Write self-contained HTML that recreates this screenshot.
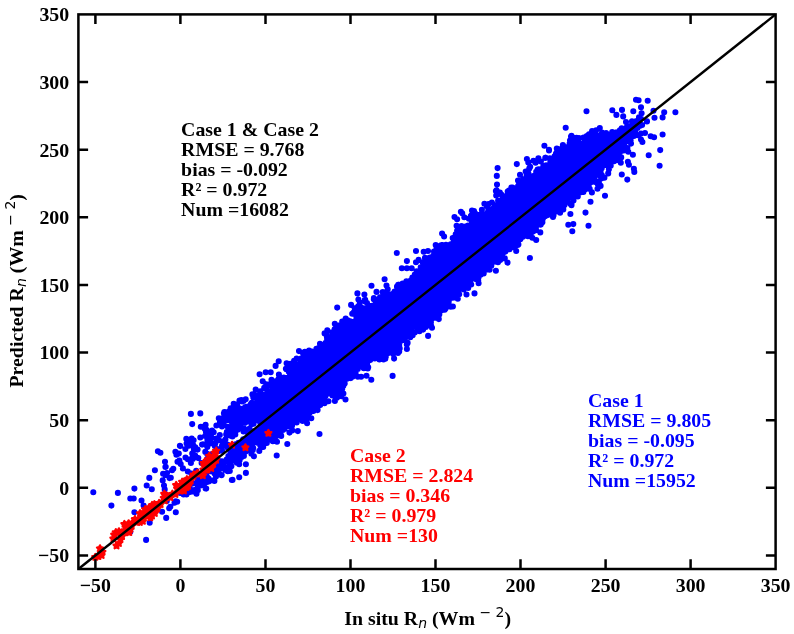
<!DOCTYPE html><html><head><meta charset="utf-8"><title>Scatter plot</title>
<style>html,body{margin:0;padding:0;background:#fff}svg{display:block}text{font-family:"Liberation Serif","Times New Roman",serif;font-weight:bold;font-size:19.85px;fill:#000}.m{font-family:"DejaVu Sans",sans-serif;font-weight:normal}.mi{font-family:"DejaVu Sans",sans-serif;font-weight:normal;font-style:oblique}</style></head><body>
<svg width="794" height="634" viewBox="0 0 794 634">
<rect width="794" height="634" fill="#fff"/>
<polygon points="268.9,402.6 544.3,183.5 544.3,213.2 268.9,432.4" fill="#0000ff"/>
<path d="M549.4 189.2h0M205.3 451.9h0M339.6 345.6h0M622.8 145.4h0M611.5 142.1h0M326.7 387.0h0M265.8 426.9h0M260.5 429.8h0M408.4 284.6h0M557.7 193.8h0M227.7 426.7h0M319.3 392.9h0M481.9 226.7h0M321.9 353.5h0M376.9 313.1h0M197.8 490.3h0M464.9 236.7h0M540.3 184.7h0M361.8 324.1h0M522.4 191.4h0M599.8 139.7h0M448.7 290.0h0M464.3 217.3h0M305.7 410.3h0M400.0 335.5h0M387.7 303.8h0M589.3 142.3h0M326.6 386.9h0M541.2 184.2h0M472.2 230.9h0M531.7 179.6h0M572.7 177.9h0M552.0 175.6h0M442.1 260.8h0M563.0 195.3h0M436.4 300.0h0M544.6 185.2h0M442.1 233.6h0M379.1 310.4h0M262.2 427.1h0M501.2 211.9h0M251.2 404.9h0M377.8 301.7h0M256.3 433.4h0M296.6 373.9h0M588.7 177.6h0M479.2 230.9h0M554.2 204.2h0M566.0 158.0h0M204.9 429.1h0M501.8 248.1h0M393.0 298.9h0M233.7 419.5h0M423.6 272.3h0M369.3 321.5h0M574.7 188.7h0M443.3 246.9h0M577.2 164.5h0M601.5 144.7h0M549.1 191.4h0M445.7 254.0h0M560.4 191.7h0M277.6 428.4h0M576.5 140.5h0M490.1 259.8h0M592.7 152.0h0M386.3 307.8h0M269.5 384.4h0M556.9 206.1h0M471.3 228.5h0M584.0 149.5h0M274.7 395.6h0M390.6 340.4h0M522.0 232.2h0M293.5 417.3h0M556.0 193.8h0M517.7 196.6h0M557.0 184.8h0M267.4 423.2h0M256.2 441.3h0M245.1 418.5h0M337.6 340.3h0M441.2 263.8h0M262.8 430.2h0M477.3 228.2h0M246.3 419.6h0M357.7 314.0h0M568.7 151.5h0M520.8 198.1h0M470.9 274.4h0M455.5 297.4h0M318.9 362.4h0M443.6 307.8h0M263.3 426.3h0M583.0 170.8h0M534.7 185.2h0M366.9 354.9h0M360.2 323.9h0M516.2 196.3h0M298.7 375.5h0M544.1 180.2h0M443.4 297.5h0M455.0 295.2h0M547.7 200.0h0M252.8 412.5h0M468.5 236.8h0M440.2 263.5h0M572.6 195.8h0M338.9 340.7h0M289.5 432.6h0M527.0 191.5h0M337.2 336.2h0M405.6 293.5h0M501.7 216.1h0M505.1 199.3h0M300.0 371.4h0M299.2 376.3h0M553.0 197.5h0M344.3 381.9h0M527.7 189.0h0M544.5 193.2h0M318.8 393.8h0M549.1 184.3h0M626.2 132.5h0M569.2 181.0h0M385.2 307.8h0M491.5 214.1h0M393.3 303.4h0M258.8 439.2h0M435.0 264.5h0M558.8 187.7h0M617.6 141.7h0M525.3 180.2h0M559.3 193.2h0M296.8 377.0h0M286.4 382.8h0M610.1 147.0h0M556.5 202.9h0M277.2 433.4h0M258.1 406.5h0M622.5 145.1h0M546.2 200.7h0M557.3 163.4h0M297.3 371.8h0M258.5 406.7h0M420.5 311.9h0M314.0 396.8h0M428.2 272.8h0M431.2 266.9h0M385.4 304.6h0M315.0 396.7h0M293.5 374.0h0M600.6 155.9h0M570.6 193.2h0M331.7 385.6h0M591.2 137.3h0M324.3 350.3h0M556.7 194.7h0M263.8 426.4h0M452.0 295.6h0M487.0 261.9h0M533.3 229.9h0M478.5 273.7h0M310.6 368.6h0M558.8 184.9h0M567.8 171.1h0M307.1 415.9h0M424.1 267.6h0M587.3 155.2h0M517.7 239.0h0M576.3 174.3h0M391.8 301.3h0M482.0 216.9h0M436.2 302.4h0M507.0 204.6h0M276.2 427.2h0M493.6 255.5h0M236.3 446.2h0M581.7 159.9h0M427.0 276.4h0M439.9 260.0h0M565.3 197.4h0M263.2 447.0h0M321.0 359.6h0M404.5 286.2h0M500.9 211.5h0M436.8 304.8h0M519.4 199.4h0M408.3 323.5h0M523.2 187.5h0M465.6 234.4h0M388.9 339.1h0M498.9 216.5h0M512.3 193.3h0M259.6 412.1h0M473.0 228.2h0M316.4 348.7h0M635.5 122.2h0M574.5 166.5h0M546.3 176.2h0M343.5 374.4h0M544.7 184.3h0M358.5 316.4h0M434.3 303.0h0M486.6 267.0h0M507.5 194.7h0M495.2 221.7h0M464.1 283.0h0M340.7 337.9h0M427.4 317.6h0M322.8 395.2h0M584.5 167.2h0M350.8 378.1h0M356.3 324.4h0M507.9 209.4h0M415.5 284.8h0M560.6 186.5h0M500.9 213.0h0M399.1 329.6h0M464.9 233.5h0M300.8 408.5h0M301.6 370.7h0M584.2 174.4h0M251.9 408.6h0M235.5 444.2h0M514.6 194.5h0M457.5 244.6h0M388.9 296.7h0M392.6 303.6h0M560.9 178.5h0M548.0 191.9h0M578.1 168.4h0M545.3 157.9h0M258.1 416.9h0M556.8 197.6h0M612.7 146.9h0M442.2 298.2h0M577.5 182.5h0M365.9 362.3h0M242.7 445.8h0M482.5 264.2h0M355.6 331.8h0M563.1 187.1h0M549.9 158.2h0M534.5 222.0h0M195.3 447.2h0M512.8 205.4h0M569.3 177.7h0M294.9 416.4h0M424.6 316.3h0M260.2 428.7h0M435.7 259.5h0M283.7 424.2h0M345.9 328.2h0M454.6 254.0h0M404.7 291.7h0M352.0 335.4h0M252.5 442.0h0M585.2 174.0h0M328.1 389.5h0M312.9 363.3h0M560.3 181.6h0M345.5 336.6h0M442.9 245.9h0M421.6 328.7h0M544.8 210.3h0M411.0 287.0h0M207.3 446.9h0M426.5 312.6h0M342.9 379.3h0M590.0 167.2h0M264.5 431.6h0M578.3 182.4h0M435.8 308.5h0M387.8 353.3h0M561.0 210.3h0M554.6 193.2h0M266.0 430.1h0M364.9 299.8h0M559.8 174.1h0M312.4 400.2h0M415.2 325.4h0M603.3 160.5h0M519.7 200.8h0M357.9 312.6h0M511.0 201.8h0M230.0 463.3h0M309.5 361.1h0M301.9 371.0h0M270.3 385.0h0M327.1 338.9h0M408.0 289.5h0M447.7 255.6h0M348.1 371.1h0M259.2 417.7h0M502.4 206.6h0M545.6 191.6h0M558.1 200.0h0M339.0 383.9h0M567.2 201.1h0M593.7 145.9h0M552.7 189.1h0M568.5 176.8h0M258.5 430.0h0M558.2 197.3h0M455.7 239.6h0M276.9 389.5h0M440.2 309.5h0M627.7 134.3h0M511.6 198.2h0M547.3 199.3h0M616.0 151.5h0M571.4 178.5h0M573.2 179.0h0M569.8 167.5h0M388.8 346.8h0M302.2 373.2h0M440.4 260.3h0M475.4 279.0h0M517.8 244.9h0M332.7 337.5h0M361.9 323.8h0M317.4 356.2h0M259.3 411.4h0M370.0 308.1h0M448.7 290.1h0M486.7 263.4h0M591.0 151.1h0M322.5 393.5h0M339.2 328.9h0M321.8 390.7h0M615.2 155.4h0M349.9 369.6h0M613.9 134.5h0M575.9 168.4h0M264.9 430.0h0M200.7 484.2h0M260.2 443.6h0M435.7 245.1h0M256.7 436.9h0M562.5 159.6h0M221.0 465.7h0M583.5 137.5h0M549.5 205.2h0M360.2 363.3h0M254.0 436.7h0M251.5 443.5h0M307.3 367.3h0M551.5 193.6h0M365.8 311.9h0M365.0 323.5h0M284.5 425.5h0M515.7 237.1h0M476.8 235.4h0M289.3 385.1h0M341.4 396.2h0M577.4 190.3h0M425.5 275.6h0M235.6 428.7h0M546.9 203.3h0M260.3 391.2h0M598.7 163.8h0M358.0 325.0h0M216.9 440.1h0M321.6 396.1h0M420.2 322.2h0M549.1 168.6h0M359.8 302.5h0M347.9 331.6h0M569.2 177.9h0M420.7 319.1h0M266.9 426.2h0M613.6 137.3h0M271.4 439.8h0M423.1 317.7h0M398.4 329.8h0M576.7 163.7h0M575.1 180.9h0M459.7 281.0h0M233.1 415.5h0M484.0 226.2h0M596.1 130.3h0M338.9 336.9h0M242.1 409.9h0M420.6 314.5h0M553.1 198.5h0M583.0 159.0h0M417.1 283.3h0M408.1 323.9h0M536.5 181.1h0M518.1 200.4h0M562.0 196.8h0M380.0 297.5h0M288.4 420.4h0M584.7 178.0h0M601.9 160.4h0M546.4 215.1h0M314.6 360.5h0M591.4 164.8h0M426.3 310.7h0M560.2 198.8h0M231.3 461.2h0M446.5 294.0h0M394.1 339.0h0M396.4 351.8h0M552.2 192.9h0M490.6 256.6h0M357.4 330.3h0M548.3 212.1h0M287.3 421.4h0M614.0 143.4h0M255.1 439.5h0M582.1 179.6h0M235.6 447.5h0M284.4 387.3h0M410.3 337.2h0M292.0 383.5h0M520.6 234.8h0M439.6 252.9h0M301.5 358.2h0M433.1 303.0h0M461.6 236.8h0M423.0 316.9h0M494.7 259.1h0M340.3 344.9h0M615.8 137.5h0M491.0 212.6h0M558.8 188.4h0M359.6 363.0h0M483.0 227.2h0M567.1 176.1h0M574.6 165.2h0M256.0 418.1h0M620.6 133.2h0M453.6 287.7h0M317.0 407.3h0M355.8 365.4h0M452.7 238.1h0M567.7 186.1h0M363.7 325.6h0M442.1 263.8h0M208.1 432.4h0M377.8 314.0h0M583.5 171.7h0M469.1 241.2h0M510.0 202.5h0M548.4 192.1h0M295.4 373.4h0M353.3 331.0h0M435.5 315.6h0M273.5 390.3h0M605.1 163.2h0M406.3 324.2h0M446.1 253.4h0M546.0 183.2h0M564.9 177.1h0M230.0 458.4h0M469.9 229.8h0M451.4 290.8h0M576.8 153.0h0M389.5 340.5h0M545.4 203.0h0M585.7 156.2h0M348.6 322.9h0M298.1 373.4h0M532.5 192.6h0M422.3 314.2h0M284.7 428.1h0M512.6 244.8h0M587.0 141.9h0M355.3 366.8h0M545.1 184.5h0M389.4 306.7h0M556.9 199.0h0M517.4 236.1h0M309.1 368.9h0M612.2 137.9h0M422.9 275.1h0M556.4 178.3h0M360.8 363.1h0M562.6 174.3h0M488.4 222.6h0M550.5 160.4h0M548.0 199.3h0M567.6 153.7h0M174.5 502.8h0M584.9 155.7h0M557.7 191.3h0M589.2 156.8h0M530.6 185.9h0M381.7 309.5h0M623.4 138.1h0M438.9 251.8h0M574.5 179.8h0M637.9 124.0h0M555.4 168.7h0M297.8 374.6h0M557.0 175.1h0M219.6 466.0h0M546.7 200.9h0M451.4 244.8h0M475.4 234.5h0M265.1 402.3h0M269.3 398.1h0M496.3 252.6h0M470.7 272.9h0M457.4 246.6h0M267.2 400.3h0M549.5 199.6h0M269.2 394.0h0M569.2 155.0h0M312.5 367.5h0M434.6 256.7h0M568.2 165.4h0M280.3 423.9h0M486.9 264.2h0M593.6 146.8h0M239.6 460.3h0M406.4 325.1h0M456.7 288.4h0M612.3 132.2h0M408.6 327.2h0M305.0 369.0h0M352.1 324.3h0M551.3 200.7h0M468.3 237.5h0M582.7 168.1h0M587.2 160.5h0M540.0 218.8h0M362.8 324.1h0M422.2 279.6h0M361.3 317.8h0M283.5 381.7h0M444.2 296.7h0M329.9 389.2h0M375.2 317.9h0M459.4 228.3h0M559.9 193.3h0M545.9 184.5h0M439.9 258.8h0M240.7 424.0h0M382.2 347.1h0M470.5 235.9h0M548.0 209.0h0M290.8 415.4h0M298.0 370.4h0M547.3 176.3h0M374.4 308.0h0M417.7 280.4h0M346.3 330.2h0M608.1 153.0h0M374.8 357.5h0M445.4 297.0h0M350.5 333.6h0M524.1 192.2h0M523.4 192.8h0M616.7 137.3h0M455.7 287.1h0M540.4 224.8h0M605.7 139.2h0M466.5 275.9h0M328.7 353.7h0M377.2 347.7h0M562.3 178.8h0M247.8 447.3h0M471.4 274.8h0M475.8 214.1h0M407.3 291.8h0M333.0 383.3h0M572.9 184.6h0M493.7 258.8h0M483.7 273.4h0M353.6 325.7h0M425.0 317.1h0M366.6 356.3h0M393.9 340.0h0M533.9 182.4h0M478.5 266.6h0M605.5 158.0h0M422.0 271.9h0M384.5 310.6h0M576.1 164.8h0M516.3 190.3h0M320.0 397.9h0M610.8 134.7h0M569.6 183.1h0M587.6 143.7h0M320.8 357.9h0M291.2 418.0h0M290.4 363.9h0M370.3 316.9h0M560.9 194.6h0M613.9 134.7h0M304.3 370.8h0M436.8 256.3h0M262.9 434.0h0M572.0 177.0h0M318.4 361.7h0M468.9 275.5h0M227.4 446.7h0M489.5 211.0h0M340.2 341.8h0M405.5 329.2h0M613.0 142.7h0M332.9 340.5h0M290.0 418.3h0M582.7 157.8h0M359.4 329.6h0M400.1 332.0h0M393.8 333.0h0M507.7 206.7h0M346.7 372.9h0M412.6 287.8h0M492.7 256.3h0M357.2 325.4h0M348.3 373.1h0M618.3 151.5h0M479.0 276.6h0M258.5 436.3h0M518.1 186.1h0M561.2 164.4h0M370.2 316.7h0M192.4 457.8h0M301.4 374.8h0M460.0 244.3h0M613.9 151.0h0M375.8 307.6h0M464.2 244.7h0M587.7 150.8h0M408.5 331.2h0M430.7 311.8h0M333.7 384.8h0M275.2 397.3h0M246.7 410.8h0M519.6 238.3h0M430.5 308.6h0M536.1 230.1h0M361.4 324.2h0M250.5 445.7h0M545.8 209.0h0M470.5 229.7h0M516.5 202.8h0M537.4 176.3h0M406.8 288.5h0M580.2 146.0h0M570.7 183.1h0M588.7 154.3h0M344.7 376.9h0M191.7 438.6h0M527.8 189.1h0M361.8 321.8h0M492.3 255.5h0M207.3 459.0h0M331.5 386.5h0M549.1 181.7h0M326.9 336.8h0M364.4 326.0h0M423.7 318.3h0M405.9 331.4h0M501.5 215.6h0M474.4 271.1h0M491.4 264.2h0M307.8 355.5h0M244.6 448.3h0M509.1 203.2h0M298.6 365.3h0M465.3 279.3h0M260.7 411.0h0M573.4 175.9h0M444.4 294.0h0M398.0 352.9h0M425.2 278.2h0M510.9 210.0h0M262.6 405.0h0M229.2 411.3h0M598.0 164.9h0M550.8 201.3h0M567.2 182.1h0M317.3 357.3h0M311.1 363.1h0M240.6 409.2h0M424.2 274.1h0M402.9 289.2h0M249.4 414.8h0M351.0 335.2h0M617.3 136.5h0M267.6 410.0h0M320.6 394.7h0M309.3 359.6h0M322.2 395.5h0M339.6 385.4h0M447.5 254.9h0M412.7 288.0h0M415.3 321.4h0M388.7 307.0h0M352.8 329.7h0M293.8 374.9h0M428.0 312.0h0M358.4 330.2h0M593.3 150.8h0M392.0 340.4h0M577.1 189.0h0M277.6 428.9h0M472.1 218.4h0M568.0 172.4h0M450.7 244.3h0M286.1 426.2h0M547.0 205.5h0M545.1 198.7h0M572.7 158.4h0M552.0 205.6h0M526.1 195.9h0M257.6 432.2h0M275.3 439.4h0M583.3 184.0h0M216.9 472.7h0M322.8 353.5h0M232.4 436.4h0M419.1 279.4h0M280.6 384.0h0M550.4 161.8h0M377.1 315.8h0M532.4 225.3h0M563.8 169.0h0M458.4 289.8h0M550.7 198.3h0M571.4 156.0h0M284.4 380.6h0M441.2 249.5h0M357.0 327.8h0M558.7 182.1h0M265.4 402.2h0M368.1 353.7h0M612.2 132.0h0M593.2 136.4h0M211.4 459.6h0M563.2 198.2h0M528.3 184.5h0M356.5 332.5h0M335.0 380.1h0M313.8 365.1h0M552.2 167.9h0M545.7 157.8h0M373.8 316.0h0M482.3 264.9h0M416.2 322.1h0M348.0 338.6h0M587.0 138.6h0M572.8 179.8h0M293.8 374.3h0M495.4 205.5h0M596.0 151.2h0M488.1 224.8h0M598.2 181.7h0M326.3 353.3h0M490.9 213.7h0M239.6 428.6h0M571.0 183.4h0M527.6 192.0h0M548.2 210.2h0M407.3 336.5h0M549.1 205.8h0M381.8 351.8h0M500.8 206.3h0M429.8 263.4h0M431.4 265.4h0M615.1 137.8h0M588.3 171.3h0M261.8 428.9h0M572.3 169.6h0M429.7 262.2h0M523.8 197.5h0M482.6 220.5h0M554.6 156.4h0M540.9 161.5h0M207.4 440.1h0M364.6 325.7h0M395.6 292.7h0M409.6 322.2h0M394.2 338.3h0M549.4 194.5h0M343.7 379.0h0M425.6 275.9h0M584.5 142.2h0M419.0 323.4h0M504.2 210.8h0M522.1 190.8h0M461.9 279.0h0M557.3 194.3h0M428.4 270.8h0M498.5 260.6h0M557.6 210.5h0M465.5 232.9h0M383.0 352.7h0M437.2 299.2h0M552.4 173.0h0M525.9 187.4h0M560.9 174.8h0M525.1 197.6h0M260.2 403.7h0M351.4 369.3h0M336.2 341.1h0M436.9 262.1h0M469.5 242.0h0M499.4 256.2h0M549.5 206.9h0M557.2 191.2h0M303.9 405.1h0M555.5 191.9h0M309.4 401.8h0M409.8 326.7h0M596.2 141.4h0M545.2 213.4h0M549.5 172.8h0M401.3 327.8h0M349.2 331.4h0M600.9 136.3h0M421.6 312.7h0M242.5 453.6h0M573.0 183.9h0M249.8 440.6h0M353.9 369.9h0M508.5 246.0h0M381.4 350.2h0M534.1 224.1h0M332.0 391.0h0M571.0 191.8h0M426.3 263.2h0M482.4 269.3h0M366.1 322.5h0M286.7 426.1h0M322.0 395.3h0M463.2 247.3h0M516.2 251.0h0M266.2 384.3h0M550.8 182.0h0M381.1 343.9h0M562.1 187.1h0M523.0 230.8h0M280.4 379.4h0M300.0 374.5h0M296.5 371.9h0M232.7 424.5h0M626.9 127.6h0M262.8 410.4h0M613.3 154.4h0M373.8 311.6h0M533.9 191.5h0M195.2 455.6h0M473.9 237.4h0M243.3 451.4h0M358.7 324.2h0M294.1 360.9h0M506.1 208.0h0M419.5 331.2h0M472.1 271.4h0M321.0 346.1h0M484.0 267.1h0M294.4 413.4h0M293.9 377.4h0M324.2 388.8h0M426.5 313.2h0M566.1 172.3h0M263.8 417.6h0M554.0 173.5h0M613.9 154.4h0M459.4 245.7h0M248.3 446.1h0M267.0 418.1h0M481.8 215.1h0M481.1 233.3h0M365.9 361.1h0M596.9 151.1h0M463.6 244.0h0M420.1 317.8h0M429.4 305.0h0M495.9 210.9h0M364.1 360.7h0M251.1 444.6h0M535.7 189.9h0M290.1 415.5h0M408.1 332.9h0M341.2 380.1h0M501.9 250.0h0M562.9 145.0h0M496.3 253.2h0M367.1 355.3h0M610.7 165.7h0M548.9 182.0h0M433.7 310.2h0M611.0 148.0h0M583.4 192.0h0M621.6 136.7h0M553.5 210.0h0M568.3 160.2h0M569.6 159.3h0M558.5 189.1h0M431.3 272.0h0M550.9 190.4h0M308.9 370.0h0M347.7 320.4h0M247.0 420.1h0M352.3 330.9h0M553.0 193.7h0M620.2 151.8h0M311.9 353.4h0M413.2 323.2h0M560.5 186.7h0M384.1 342.5h0M550.7 167.7h0M608.1 156.8h0M483.3 224.0h0M413.6 287.5h0M371.4 352.2h0M353.3 370.0h0M578.0 165.7h0M216.6 464.8h0M493.5 208.4h0M450.4 256.3h0M328.5 341.4h0M416.7 327.6h0M591.7 155.6h0M538.7 178.9h0M571.9 168.7h0M466.7 226.8h0M548.5 208.8h0M603.6 145.6h0M291.0 371.1h0M292.6 380.9h0M485.6 229.1h0M614.7 144.9h0M249.2 429.0h0M499.2 210.3h0M489.1 223.3h0M279.0 393.8h0M508.2 211.7h0M220.6 424.9h0M289.1 386.4h0M438.9 263.7h0M585.1 153.0h0M535.1 175.4h0M571.2 158.5h0M605.9 159.1h0M351.5 367.1h0M394.6 302.0h0M266.9 426.7h0M497.4 206.0h0M418.9 322.0h0M333.5 350.7h0M567.0 161.8h0M421.9 320.3h0M281.5 425.2h0M245.4 431.0h0M558.9 162.2h0M460.6 243.6h0M504.5 248.5h0M430.2 271.4h0M603.5 141.5h0M576.4 173.7h0M562.6 170.0h0M429.7 314.4h0M276.5 396.4h0M232.1 461.1h0M368.2 320.4h0M457.1 247.7h0M532.3 181.6h0M471.1 275.6h0M562.7 158.9h0M549.2 187.0h0M265.5 412.2h0M251.0 403.9h0M340.7 388.0h0M589.0 144.6h0M402.7 295.6h0M602.3 135.3h0M514.2 237.5h0M486.7 260.7h0M491.0 216.9h0M244.3 444.8h0M536.7 223.7h0M547.1 170.1h0M479.0 223.7h0M320.0 350.3h0M550.1 204.3h0M608.1 150.2h0M509.3 241.8h0M566.0 201.7h0M627.0 136.2h0M469.6 226.3h0M408.0 286.0h0M243.3 420.4h0M306.5 413.8h0M450.7 290.4h0M567.8 182.1h0M581.1 164.4h0M550.0 194.6h0M349.8 332.8h0M334.9 401.0h0M558.8 186.1h0M441.1 260.0h0M341.3 342.2h0M289.3 416.1h0M301.6 361.4h0M547.6 180.4h0M527.9 236.3h0M477.4 228.0h0M484.5 219.5h0M327.3 355.8h0M441.7 259.6h0M388.6 338.9h0M558.9 207.2h0M543.6 174.0h0M547.0 190.1h0M482.6 220.1h0M261.1 416.1h0M557.6 196.1h0M256.1 395.4h0M511.2 197.8h0M320.0 360.3h0M454.2 249.9h0M386.0 347.8h0M567.2 160.7h0M559.9 196.4h0M486.6 221.3h0M393.1 349.5h0M257.0 440.5h0M472.8 228.6h0M573.3 153.4h0M315.6 358.0h0M224.4 461.9h0M584.0 163.1h0M454.4 285.5h0M522.6 231.8h0M552.4 207.8h0M326.8 354.7h0M489.3 221.2h0M342.1 338.1h0M487.8 225.9h0M518.4 244.4h0M394.7 333.7h0M613.1 145.6h0M245.6 414.6h0M293.4 415.6h0M488.3 212.5h0M571.6 180.9h0M555.8 193.7h0M547.3 201.0h0M461.4 283.1h0M486.1 227.8h0M432.4 318.1h0M187.8 471.5h0M320.4 399.0h0M325.7 393.1h0M425.7 309.7h0M447.5 298.5h0M534.9 222.0h0M590.2 163.0h0M544.6 200.6h0M302.8 352.7h0M579.8 161.6h0M459.2 283.9h0M328.2 336.9h0M536.8 179.7h0M535.7 175.3h0M627.4 148.0h0M350.2 321.4h0M559.7 203.5h0M520.4 188.3h0M522.7 230.7h0M536.8 182.0h0M550.2 194.5h0M387.6 305.8h0M319.2 398.3h0M268.7 420.6h0M567.0 188.7h0M520.5 232.2h0M578.4 178.2h0M276.8 432.4h0M575.6 160.3h0M574.5 164.0h0M548.7 173.5h0M390.5 337.4h0M567.6 191.6h0M589.7 188.9h0M385.7 305.0h0M545.3 201.7h0M265.9 421.5h0M306.4 419.4h0M243.7 449.9h0M629.6 127.6h0M573.7 171.4h0M329.1 390.6h0M190.0 491.9h0M399.7 348.4h0M402.2 290.6h0M435.1 263.4h0M258.4 435.2h0M343.5 374.9h0M584.5 163.6h0M253.5 441.5h0M364.9 311.3h0M377.1 355.0h0M424.9 270.3h0M554.4 201.4h0M363.5 366.6h0M262.3 427.5h0M543.7 182.8h0M450.8 306.7h0M451.8 245.2h0M388.7 352.6h0M238.7 450.7h0M587.5 160.7h0M544.9 206.9h0M606.8 157.2h0M339.2 386.4h0M588.8 185.0h0M554.7 181.7h0M297.0 378.7h0M357.5 322.1h0M475.7 227.7h0M487.9 228.1h0M436.5 268.5h0M498.0 219.0h0M282.6 380.6h0M341.4 380.5h0M397.0 287.0h0M471.7 235.1h0M401.6 337.7h0M345.7 372.7h0M399.9 297.0h0M482.1 268.7h0M601.7 168.2h0M472.9 228.5h0M550.4 206.4h0M285.9 368.8h0M453.8 287.2h0M489.6 269.8h0M567.5 189.6h0M409.4 332.1h0M555.3 194.3h0M346.9 324.0h0M326.1 387.1h0M397.1 330.4h0M595.4 161.7h0M288.3 386.7h0M271.5 379.8h0M197.9 486.7h0M565.2 199.3h0M336.8 340.1h0M481.2 224.4h0M241.5 414.8h0M538.2 183.2h0M441.5 257.4h0M324.5 351.5h0M360.2 361.6h0M407.5 292.1h0M554.7 173.2h0M431.9 314.7h0M439.6 261.0h0M416.0 285.5h0M416.7 283.1h0M361.6 326.5h0M568.5 158.6h0M272.5 390.0h0M277.3 426.2h0M331.0 386.6h0M455.2 249.5h0M288.8 426.2h0M247.9 406.6h0M558.6 176.7h0M588.8 148.8h0M195.2 483.3h0M579.5 159.6h0M282.6 424.1h0M424.3 270.7h0M389.1 342.6h0M344.1 335.6h0M344.8 340.3h0M334.2 349.2h0M577.7 156.4h0M518.7 192.7h0M385.8 308.1h0M292.7 374.5h0M459.5 245.7h0M593.3 152.2h0M637.4 127.9h0M304.3 410.6h0M459.0 284.6h0M563.0 179.2h0M573.7 146.4h0M600.5 158.3h0M403.7 294.1h0M352.5 369.3h0M271.7 434.4h0M386.9 306.2h0M394.8 336.8h0M537.2 187.0h0M360.4 309.6h0M517.7 198.1h0M438.8 261.9h0M269.2 400.7h0M327.5 341.9h0M459.4 247.2h0M263.1 408.4h0M320.0 396.8h0M483.2 228.6h0M327.3 348.7h0M557.1 196.1h0M549.1 196.5h0M269.9 399.2h0M622.8 129.1h0M478.2 267.2h0M392.4 344.5h0M600.0 143.2h0M551.2 180.1h0M476.4 274.7h0M446.1 294.7h0M452.4 251.3h0M334.3 386.5h0M276.2 386.5h0M264.4 411.5h0M564.7 174.4h0M211.7 458.6h0M237.3 459.4h0M265.7 423.5h0M604.4 143.2h0M288.8 371.8h0M497.1 219.3h0M430.1 304.6h0M496.8 175.9h0M615.0 134.0h0M624.6 130.4h0M375.2 352.5h0M548.6 196.7h0M267.3 415.9h0M538.2 178.5h0M547.7 202.0h0M217.1 461.8h0M285.4 379.7h0M545.6 198.8h0M326.5 391.9h0M556.8 173.7h0M263.3 394.5h0M442.3 249.0h0M486.1 225.3h0M416.0 262.3h0M223.5 422.4h0M400.3 339.3h0M582.3 173.3h0M550.2 178.9h0M561.3 173.7h0M333.7 382.3h0M559.9 180.1h0M577.8 166.7h0M594.4 149.3h0M578.0 184.1h0M400.9 295.5h0M394.7 333.2h0M398.1 298.2h0M285.1 426.9h0M417.6 277.3h0M292.1 376.9h0M385.8 304.0h0M490.5 218.4h0M264.5 437.0h0M382.1 349.4h0M613.0 142.9h0M476.5 269.7h0M532.1 180.8h0M396.7 296.2h0M223.9 413.2h0M574.7 145.8h0M349.0 331.1h0M618.1 144.4h0M481.7 229.4h0M593.3 159.8h0M554.8 192.6h0M291.7 375.0h0M399.1 292.8h0M551.6 200.2h0M597.8 165.7h0M503.1 252.8h0M526.2 172.2h0M462.4 231.0h0M554.6 195.0h0M245.0 415.0h0M316.9 363.9h0M565.7 158.2h0M208.8 442.7h0M547.3 193.1h0M406.8 344.6h0M186.6 443.5h0M449.8 247.8h0M343.1 343.1h0M431.9 269.6h0M608.0 135.2h0M557.0 188.8h0M259.8 432.4h0M329.7 348.5h0M556.7 176.4h0M422.2 278.2h0M442.2 256.9h0M494.4 216.5h0M266.9 389.3h0M261.3 432.6h0M238.1 455.8h0M399.4 289.2h0M284.1 385.9h0M542.0 181.9h0M376.6 313.4h0M335.9 336.3h0M323.0 357.8h0M382.3 343.9h0M554.2 169.0h0M545.5 197.3h0M364.3 367.6h0M626.9 128.0h0M327.3 388.1h0M525.8 192.7h0M335.9 348.4h0M271.8 397.0h0M319.2 354.6h0M344.5 338.6h0M567.6 167.4h0M594.0 138.9h0M519.1 197.7h0M416.0 284.9h0M479.8 229.2h0M344.1 328.1h0M555.6 162.7h0M550.1 211.1h0M505.9 198.1h0M265.2 406.7h0M587.6 149.9h0M506.9 203.1h0M264.7 430.3h0M545.4 212.7h0M492.0 221.9h0M325.4 351.2h0M439.5 306.5h0M226.6 416.3h0M299.6 367.8h0M373.7 318.0h0M476.7 236.8h0M583.9 160.2h0M470.5 240.0h0M180.1 493.0h0M447.7 299.7h0M352.0 329.7h0M572.8 142.3h0M531.4 182.0h0M411.9 284.1h0M278.6 394.3h0M228.5 412.0h0M465.1 280.2h0M400.0 295.5h0M410.8 334.9h0M339.6 376.4h0M547.7 211.8h0M589.2 149.1h0M381.5 307.4h0M322.2 357.0h0M552.9 197.8h0M257.8 438.6h0M206.5 429.7h0M414.1 323.1h0M553.6 199.1h0M558.2 189.2h0M369.3 318.8h0M490.4 216.1h0M207.2 482.0h0M432.4 302.5h0M416.1 318.6h0M572.5 174.2h0M361.0 361.3h0M597.8 161.1h0M544.5 192.7h0M327.8 331.3h0M286.5 418.4h0M393.7 337.4h0M414.6 317.3h0M493.9 221.1h0M310.7 402.2h0M365.3 322.0h0M493.8 212.4h0M573.1 175.8h0M441.2 263.3h0M371.3 357.5h0M460.5 286.9h0M375.5 313.3h0M586.1 173.1h0M557.3 174.1h0M451.8 256.2h0M576.5 152.6h0M260.5 416.6h0M443.8 258.7h0M498.1 217.7h0M364.9 322.3h0M554.0 190.4h0M480.9 224.3h0M288.5 386.3h0M489.1 259.4h0M553.2 174.2h0M494.3 216.5h0M374.8 317.9h0M551.9 169.8h0M514.8 244.9h0M528.1 188.7h0M608.8 164.3h0M612.8 150.2h0M589.4 146.5h0M251.8 402.9h0M262.5 443.1h0M545.8 205.4h0M177.2 501.8h0M427.1 310.9h0M537.8 184.3h0M573.6 156.7h0M581.3 158.3h0M591.3 138.4h0M188.8 441.1h0M520.1 192.3h0M466.7 278.4h0M431.1 304.9h0M519.4 202.8h0M191.9 483.8h0M565.7 193.0h0M565.8 180.6h0M381.6 308.8h0M337.4 379.2h0M555.6 198.1h0M422.2 272.1h0M554.1 180.9h0M266.8 436.2h0M560.2 162.2h0M571.4 186.1h0M242.2 408.7h0M485.8 216.4h0M555.7 193.4h0M480.7 228.0h0M313.4 401.6h0M548.9 171.1h0M204.9 478.8h0M619.3 150.1h0M527.3 197.0h0M301.3 406.9h0M352.0 325.9h0M507.6 246.1h0M297.5 375.9h0M607.3 138.3h0M285.8 420.0h0M388.4 341.6h0M241.3 447.0h0M334.5 387.0h0M553.9 187.7h0M590.9 182.2h0M556.6 197.8h0M498.9 250.1h0M590.8 167.2h0M334.5 336.6h0M571.0 136.6h0M555.6 189.3h0M610.2 143.5h0M354.4 333.7h0M577.4 162.9h0M389.2 342.6h0M252.4 394.4h0M449.8 252.0h0M345.1 337.0h0M231.4 431.6h0M569.1 167.8h0M251.4 424.4h0M387.4 341.8h0M362.0 362.1h0M512.4 206.0h0M416.5 282.0h0M574.8 170.9h0M513.4 192.9h0M567.9 161.2h0M597.4 153.9h0M580.1 182.2h0M484.9 219.3h0M297.6 411.5h0M338.9 327.4h0M565.5 194.3h0M620.6 145.2h0M297.1 411.1h0M383.9 343.8h0M433.1 262.9h0M390.3 338.3h0M589.1 158.8h0M458.6 241.5h0M459.6 246.3h0M363.0 359.4h0M613.7 160.5h0M520.3 189.9h0M521.5 188.7h0M382.5 303.9h0M600.8 169.6h0M436.6 257.4h0M532.9 224.4h0M381.6 345.4h0M471.4 231.9h0M601.2 140.8h0M503.0 200.9h0M314.7 360.1h0M483.4 227.3h0M585.2 170.3h0M280.7 434.4h0M636.4 121.1h0M354.5 334.1h0M393.1 294.9h0M299.1 409.7h0M364.4 318.8h0M445.0 293.0h0M550.9 211.9h0M254.7 409.9h0M582.8 163.8h0M369.3 352.9h0M458.1 251.7h0M400.0 296.2h0M390.4 346.7h0M567.8 194.6h0M393.8 301.9h0M385.8 356.8h0M470.0 241.2h0M594.9 180.6h0M506.5 249.3h0M433.2 268.4h0M617.3 132.2h0M350.9 328.4h0M368.7 315.4h0M425.1 269.1h0M292.1 367.8h0M576.5 174.7h0M369.6 352.7h0M574.2 193.6h0M285.7 384.4h0M278.5 424.8h0M400.4 297.5h0M405.1 283.5h0M414.8 317.6h0M264.7 410.8h0M628.7 137.0h0M560.5 192.8h0M213.5 467.3h0M555.7 192.7h0M482.8 263.9h0M562.2 191.6h0M346.7 334.3h0M488.6 261.5h0M394.1 358.6h0M555.4 193.1h0M630.5 139.0h0M233.4 430.0h0M342.5 379.8h0M417.7 317.2h0M489.1 222.7h0M576.1 144.9h0M455.1 289.0h0M420.9 327.9h0M554.0 178.2h0M570.2 170.3h0M544.5 188.0h0M313.4 411.0h0M578.0 190.2h0M553.7 200.4h0M604.5 140.8h0M261.8 402.8h0M394.6 301.3h0M322.4 353.9h0M445.2 253.8h0M387.7 340.1h0M542.4 182.1h0M373.2 318.6h0M326.3 353.8h0M539.4 184.7h0M339.7 378.5h0M307.5 402.4h0M396.5 298.3h0M475.4 271.8h0M357.8 376.7h0M368.1 358.6h0M336.8 348.3h0M328.4 338.6h0M512.2 194.5h0M440.6 261.4h0M525.7 171.5h0M474.0 269.6h0M487.7 220.3h0M303.8 366.8h0M454.4 250.3h0M433.9 311.5h0M585.0 180.6h0M304.3 414.1h0M571.5 182.7h0M267.1 421.1h0M465.7 232.9h0M253.4 438.7h0M436.0 302.0h0M295.4 415.0h0M374.2 351.4h0M340.7 391.5h0M345.8 339.6h0M399.1 284.7h0M525.3 196.0h0M418.6 259.9h0M487.8 214.1h0M261.3 416.9h0M257.9 401.1h0M453.6 286.8h0M305.4 360.5h0M346.2 339.5h0M237.2 420.0h0M475.7 273.2h0M320.8 395.1h0M408.8 321.4h0M358.6 321.2h0M424.9 310.6h0M609.3 150.6h0M442.2 259.6h0M546.1 203.0h0M571.0 154.7h0M269.6 434.4h0M250.0 442.2h0M222.0 463.6h0M472.7 240.3h0M236.5 461.0h0M437.0 261.5h0M368.4 354.1h0M197.7 481.3h0M605.2 152.5h0M456.8 251.2h0M234.7 423.4h0M544.5 204.0h0M548.5 198.9h0M358.2 330.7h0M360.2 318.5h0M323.3 349.5h0M571.0 182.5h0M604.3 141.9h0M550.7 212.7h0M558.6 169.7h0M466.8 276.6h0M548.8 200.8h0M284.5 423.7h0M429.5 309.7h0M505.9 201.9h0M572.9 186.9h0M444.2 261.6h0M555.3 183.2h0M317.8 359.6h0M348.9 335.7h0M368.6 320.8h0M548.2 182.2h0M578.8 172.3h0M362.1 360.7h0M332.9 382.5h0M447.3 251.6h0M563.8 186.6h0M482.1 265.8h0M492.6 219.2h0M304.8 351.8h0M334.8 323.7h0M537.7 220.1h0M507.2 202.8h0M528.3 162.6h0M597.9 161.4h0M266.0 427.5h0M450.7 245.3h0M557.8 198.1h0M321.4 359.8h0M305.0 371.3h0M229.5 417.3h0M195.1 489.9h0M419.3 321.9h0M551.0 198.6h0M293.7 374.3h0M418.7 276.7h0M404.9 293.4h0M480.6 229.2h0M244.2 421.4h0M434.4 302.6h0M553.4 183.2h0M566.4 187.4h0M604.4 177.8h0M402.3 340.3h0M268.1 423.6h0M329.1 391.8h0M325.7 357.3h0M301.3 375.8h0M355.1 370.8h0M343.7 335.7h0M268.3 419.2h0M447.5 299.6h0M495.9 219.2h0M292.1 415.8h0M239.5 452.5h0M231.9 450.3h0M495.5 219.5h0M392.4 337.3h0M552.7 181.5h0M254.7 417.7h0M492.4 221.6h0M352.5 366.4h0M501.4 202.9h0M576.8 162.6h0M313.7 365.0h0M431.8 264.9h0M419.6 315.7h0M267.1 420.0h0M434.4 265.5h0M269.5 399.9h0M434.5 265.7h0M388.4 299.0h0M549.8 200.0h0M470.4 237.1h0M634.9 128.0h0M473.1 227.1h0M295.4 420.0h0M558.4 194.7h0M237.2 404.2h0M443.1 261.6h0M348.2 372.3h0M266.5 410.9h0M445.3 300.5h0M546.7 188.0h0M520.3 239.3h0M363.8 368.3h0M340.9 339.0h0M322.2 390.6h0M329.8 391.0h0M338.5 338.7h0M267.4 401.9h0M393.9 335.4h0M355.4 370.3h0M278.2 428.4h0M245.7 399.2h0M530.9 192.0h0M367.4 309.7h0M391.0 302.9h0M320.1 360.4h0M255.4 411.8h0M374.6 308.3h0M448.3 255.7h0M302.7 361.4h0M329.7 351.0h0M382.8 344.7h0M374.8 299.5h0M572.8 170.0h0M231.6 453.2h0M574.4 150.5h0M258.6 404.9h0M350.0 375.6h0M530.5 190.3h0M566.6 173.2h0M383.5 343.5h0M237.2 450.6h0M460.4 245.2h0M550.1 204.2h0M291.6 378.8h0M526.1 194.0h0M185.4 449.0h0M417.2 319.8h0M553.8 203.4h0M267.3 410.9h0M374.0 317.0h0M198.7 479.1h0M411.1 325.0h0M548.4 195.7h0M572.6 165.6h0M325.2 396.1h0M590.5 136.7h0M298.9 370.0h0M415.7 325.7h0M545.1 201.1h0M346.6 338.8h0M332.1 391.6h0M373.1 305.6h0M310.5 401.1h0M624.3 132.2h0M296.6 415.5h0M478.6 283.3h0M548.9 214.3h0M547.7 206.2h0M484.8 224.8h0M252.5 450.0h0M403.6 289.6h0M476.0 274.1h0M316.6 398.7h0M478.9 273.1h0M300.1 407.7h0M348.2 334.4h0M544.7 175.8h0M556.2 190.7h0M423.8 263.6h0M515.5 242.3h0M522.0 196.7h0M348.9 335.8h0M495.8 209.8h0M617.3 157.0h0M360.4 306.9h0M533.9 188.3h0M330.4 345.5h0M397.0 286.5h0M375.9 309.8h0M193.3 445.2h0M608.0 151.0h0M549.3 207.1h0M609.4 148.7h0M190.3 489.4h0M557.6 177.0h0M554.6 191.1h0M506.3 248.1h0M300.8 412.1h0M389.8 344.0h0M396.5 342.5h0M547.5 189.2h0M306.4 370.5h0M361.8 319.9h0M531.9 224.6h0M346.5 333.0h0M267.7 425.7h0M594.5 148.9h0M266.5 395.3h0M349.8 336.4h0M508.3 202.3h0M243.8 442.0h0M259.9 438.2h0M429.9 272.0h0M299.3 376.2h0M275.5 429.6h0M370.4 354.3h0M435.0 267.7h0M402.0 340.3h0M390.0 300.5h0M562.6 194.7h0M571.5 165.2h0M267.4 392.9h0M254.5 413.9h0M258.9 432.0h0M545.2 185.4h0M344.3 381.0h0M481.8 213.4h0M577.2 172.1h0M357.7 362.8h0M350.4 374.3h0M563.1 183.9h0M565.5 193.7h0M446.6 258.5h0M542.4 172.4h0M581.6 162.3h0M577.7 193.8h0M277.9 388.7h0M425.3 268.5h0M454.8 288.8h0M454.9 291.1h0M404.7 326.0h0M440.6 261.6h0M258.8 419.8h0M589.7 165.7h0M574.6 186.9h0M208.1 433.6h0M406.0 329.6h0M262.4 415.5h0M601.5 158.3h0M462.1 243.2h0M392.8 349.6h0M545.2 175.5h0M359.2 361.0h0M561.5 161.1h0M436.3 267.6h0M596.6 140.0h0M309.7 412.7h0M342.2 374.2h0M542.1 174.1h0M334.2 344.8h0M536.6 187.5h0M544.5 178.8h0M350.4 328.8h0M429.5 269.3h0M564.1 172.9h0M405.1 332.3h0M564.5 204.9h0M573.4 180.9h0M351.7 329.9h0M230.1 435.6h0M430.1 323.2h0M447.8 258.2h0M563.7 192.4h0M402.2 296.1h0M590.7 138.3h0M376.5 312.9h0M544.9 195.5h0M574.2 164.7h0M386.3 349.1h0M379.9 298.3h0M388.5 342.5h0M525.5 198.5h0M556.5 195.5h0M244.0 428.5h0M236.3 421.1h0M461.6 239.3h0M550.7 183.8h0M430.9 322.5h0M368.8 311.9h0M586.5 167.2h0M574.9 150.1h0M516.2 240.8h0M545.5 193.6h0M560.5 171.7h0M602.2 157.9h0M352.2 313.8h0M294.4 416.9h0M251.8 419.5h0M332.5 345.4h0M529.4 233.7h0M512.5 187.5h0M461.2 232.5h0M509.8 207.2h0M346.8 331.5h0M272.5 432.6h0M248.9 446.0h0M399.3 298.5h0M297.6 416.5h0M476.3 237.4h0M442.3 310.1h0M353.3 331.1h0M259.4 436.4h0M339.3 378.8h0M407.6 332.0h0M311.2 399.4h0M320.0 343.8h0M572.7 175.3h0M302.2 358.0h0M316.7 362.5h0M507.5 262.6h0M396.4 300.0h0M609.1 135.7h0M398.0 298.0h0M441.2 304.3h0M310.7 368.3h0M395.7 333.8h0M615.1 144.4h0M333.3 349.4h0M555.8 190.7h0M277.2 435.5h0M428.6 273.6h0M580.2 180.0h0M327.6 351.5h0M523.6 230.4h0M468.1 234.6h0M426.6 313.1h0M277.3 393.1h0M592.1 131.1h0M605.4 158.8h0M361.2 327.8h0M370.4 319.5h0M253.2 409.9h0M268.1 427.7h0M362.1 325.3h0M605.9 154.7h0M324.1 352.7h0M261.3 433.2h0M529.1 232.1h0M571.6 168.2h0M565.4 176.2h0M553.6 194.2h0M278.5 392.0h0M467.6 236.4h0M508.7 203.1h0M314.3 400.2h0M200.8 480.7h0M565.9 162.7h0M457.1 239.0h0M557.5 189.4h0M332.1 391.0h0M500.4 212.5h0M486.6 223.4h0M570.1 173.8h0M546.8 201.0h0M333.2 387.6h0M467.6 279.2h0M486.4 223.3h0M369.5 320.5h0M366.1 319.1h0M594.9 147.1h0M346.5 331.3h0M595.6 143.7h0M238.4 407.8h0M547.5 169.8h0M377.0 316.0h0M556.7 173.8h0M405.6 324.3h0M521.1 238.0h0M588.4 157.7h0M320.2 405.1h0M553.8 179.8h0M602.4 143.5h0M455.4 249.7h0M563.3 209.4h0M536.2 240.0h0M400.1 328.4h0M553.8 180.9h0M510.9 205.2h0M333.0 347.1h0M594.5 174.5h0M346.1 374.1h0M567.0 198.4h0M561.6 179.8h0M218.8 470.3h0M452.1 248.1h0M440.0 257.3h0M563.3 161.7h0M555.4 195.9h0M570.6 167.2h0M306.8 368.8h0M397.0 291.2h0M484.2 224.2h0M576.1 146.5h0M189.0 445.8h0M343.8 380.6h0M377.4 357.8h0M246.7 448.8h0M379.5 350.4h0M491.8 210.7h0M551.0 181.3h0M358.7 325.5h0M327.7 345.1h0M335.2 380.1h0M278.7 361.2h0M473.1 231.9h0M361.5 315.2h0M330.4 393.8h0M569.4 197.8h0M367.6 355.4h0M297.2 378.3h0M475.2 275.3h0M548.3 195.7h0M239.5 400.5h0M579.0 188.4h0M506.7 211.5h0M635.0 131.6h0M549.9 180.3h0M501.9 247.6h0M433.5 270.0h0M473.7 276.2h0M589.0 134.3h0M599.6 141.0h0M465.1 226.8h0M536.2 186.1h0M556.3 154.3h0M320.5 357.6h0M573.7 183.0h0M398.8 295.0h0M308.4 362.1h0M549.0 202.5h0M558.1 181.3h0M335.7 346.5h0M274.0 440.9h0M194.3 475.5h0M520.0 189.4h0M342.9 338.8h0M506.0 244.0h0M618.0 160.1h0M279.3 387.6h0M627.3 140.3h0M597.4 160.8h0M593.2 168.6h0M456.1 250.9h0M487.6 258.5h0M459.0 234.4h0M265.2 394.4h0M258.4 429.7h0M592.7 169.9h0M380.0 297.4h0M393.2 301.4h0M434.5 307.2h0M554.3 195.0h0M355.9 331.5h0M363.8 366.3h0M441.1 296.0h0M443.1 254.0h0M501.3 250.1h0M480.8 228.8h0M560.1 212.7h0M525.8 230.8h0M597.1 159.2h0M406.5 323.9h0M544.8 188.3h0M540.4 222.7h0M550.6 198.2h0M300.2 408.1h0M469.1 238.0h0M545.9 195.3h0M502.5 216.1h0M236.9 449.1h0M460.7 287.0h0M297.8 431.1h0M619.9 130.4h0M524.7 198.2h0M414.1 317.8h0M599.8 128.1h0M536.5 220.3h0M276.0 386.1h0M486.1 266.9h0M339.4 380.3h0M323.5 357.1h0M364.8 359.3h0M584.8 157.9h0M591.3 157.6h0M299.4 409.0h0M472.0 210.6h0M540.3 232.4h0M533.4 186.9h0M414.7 286.3h0M553.2 201.8h0M378.9 313.1h0M525.5 197.3h0M560.7 171.9h0M310.9 399.8h0M536.5 189.0h0M225.0 420.2h0M354.7 333.9h0M507.7 210.9h0M439.1 300.6h0M567.3 153.7h0M469.2 229.2h0M623.7 150.4h0M266.6 406.6h0M524.6 197.6h0M423.7 251.8h0M292.8 381.7h0M394.6 295.2h0M452.9 250.4h0M403.5 289.8h0M251.8 407.5h0M389.8 336.2h0M265.8 425.0h0M308.2 368.6h0M246.8 407.4h0M527.0 227.0h0M514.0 242.3h0M276.5 389.7h0M260.8 417.8h0M449.0 258.8h0M264.1 413.9h0M364.8 314.2h0M465.2 231.3h0M265.3 407.0h0M561.8 175.9h0M588.0 185.8h0M552.4 195.7h0M321.4 346.3h0M527.9 191.8h0M366.6 310.9h0M284.1 384.1h0M206.0 432.2h0M564.6 166.3h0M243.2 439.4h0M340.8 344.0h0M584.2 184.9h0M526.6 229.7h0M334.4 389.0h0M324.3 349.1h0M346.7 370.9h0M544.8 180.7h0M549.3 204.0h0M560.3 180.6h0M267.0 410.5h0M463.6 246.1h0M279.2 426.0h0M516.5 199.8h0M250.5 410.8h0M636.4 122.3h0M601.9 175.3h0M238.8 457.7h0M216.0 476.6h0M261.5 430.8h0M502.2 213.7h0M549.1 202.3h0M450.0 253.1h0M322.3 357.9h0M599.6 162.6h0M577.4 193.0h0M399.2 295.6h0M515.4 236.5h0M491.1 263.4h0M347.0 331.2h0M321.7 402.1h0M585.0 168.0h0M605.0 150.2h0M276.3 433.4h0M278.1 428.4h0M609.9 160.4h0M582.9 183.7h0M528.1 234.0h0M451.7 248.7h0M542.4 222.3h0M554.2 179.0h0M268.7 394.9h0M563.1 173.7h0M471.5 215.2h0M493.7 256.3h0M551.5 208.4h0M311.9 360.0h0M558.4 190.0h0M534.9 185.6h0M365.9 322.8h0M518.2 235.8h0M467.4 237.3h0M488.8 218.7h0M275.1 385.7h0M566.8 184.0h0M326.1 354.7h0M474.0 225.0h0M351.1 304.9h0M314.3 397.9h0M388.4 296.1h0M585.0 149.4h0M577.2 183.0h0M482.5 220.9h0M503.2 213.2h0M337.0 329.6h0M560.0 172.2h0M551.9 214.5h0M387.2 347.2h0M596.3 145.1h0M585.7 163.0h0M423.9 268.5h0M500.4 216.2h0M545.6 193.0h0M421.6 320.8h0M572.6 173.5h0M421.5 326.5h0M180.7 464.1h0M286.0 382.9h0M398.6 294.8h0M582.2 158.4h0M627.0 134.3h0M530.5 226.8h0M202.1 444.6h0M408.9 290.5h0M338.7 340.6h0M418.1 314.3h0M427.5 270.1h0M584.1 167.8h0M340.2 344.0h0M445.1 252.5h0M210.8 441.9h0M346.4 338.0h0M592.1 153.4h0M444.7 309.8h0M433.3 305.0h0M524.4 230.3h0M302.0 410.8h0M520.3 234.5h0M506.2 212.9h0M225.4 469.9h0M424.4 308.9h0M576.8 190.2h0M543.4 165.9h0M276.5 429.7h0M619.4 133.8h0M570.0 157.8h0M408.8 329.2h0M381.2 311.3h0M438.2 302.0h0M551.5 205.4h0M572.0 154.1h0M294.1 381.9h0M306.6 362.3h0M285.0 380.3h0M503.7 210.4h0M266.1 404.2h0M456.1 286.6h0M512.6 204.9h0M538.1 176.7h0M441.6 301.3h0M605.2 160.2h0M266.5 388.7h0M550.1 197.7h0M514.4 243.1h0M581.1 173.4h0M201.5 474.5h0M472.9 221.5h0M253.0 422.2h0M356.4 315.3h0M590.6 170.3h0M567.5 192.2h0M571.3 168.2h0M570.1 177.1h0M437.5 254.1h0M325.7 342.8h0M419.6 315.2h0M262.7 401.4h0M230.4 451.3h0M445.6 308.6h0M549.8 164.4h0M447.2 257.9h0M486.7 221.2h0M495.0 212.6h0M256.6 441.2h0M362.4 326.7h0M367.1 364.5h0M233.4 455.3h0M251.7 408.7h0M472.0 221.9h0M408.9 284.8h0M317.7 362.7h0M268.2 434.9h0M574.1 176.5h0M521.6 237.6h0M442.2 308.8h0M456.3 292.4h0M467.7 277.7h0M347.1 378.7h0M590.1 153.8h0M295.6 413.9h0M359.1 319.9h0M606.1 162.5h0M449.4 289.2h0M302.1 375.2h0M509.7 210.4h0M350.2 334.3h0M416.0 278.2h0M583.0 163.0h0M295.0 367.5h0M460.2 235.1h0M221.9 461.4h0M589.0 178.2h0M553.2 175.3h0M190.0 490.0h0M615.0 154.0h0M467.3 237.3h0M499.7 214.8h0M553.2 202.1h0M440.2 266.0h0M218.8 418.3h0M430.9 306.4h0M553.4 187.0h0M557.5 199.2h0M569.4 165.0h0M559.1 176.2h0M237.1 415.7h0M251.7 449.2h0M398.2 284.9h0M570.4 214.0h0M241.7 457.1h0M273.3 384.0h0M598.7 151.5h0M379.6 314.0h0M436.6 317.2h0M624.0 144.2h0M631.8 125.1h0M581.5 169.7h0M387.7 289.2h0M219.3 467.6h0M509.6 249.2h0M535.5 185.7h0M474.8 233.4h0M598.1 157.1h0M583.5 160.2h0M408.8 325.9h0M328.8 354.1h0M594.3 154.2h0M474.9 228.6h0M585.1 178.4h0M273.8 435.4h0M480.1 224.7h0M502.5 198.2h0M579.8 179.3h0M457.9 285.3h0M262.7 381.2h0M496.6 255.5h0M558.7 158.7h0M529.2 193.7h0M554.2 199.2h0M476.2 228.3h0M565.7 182.8h0M191.4 473.6h0M253.3 440.9h0M554.1 209.1h0M557.6 195.2h0M598.4 141.2h0M249.4 411.8h0M559.4 149.3h0M261.6 413.9h0M509.4 203.9h0M325.0 391.3h0M544.5 197.5h0M547.1 206.5h0M206.7 477.2h0M427.6 261.9h0M333.3 383.6h0M251.7 406.6h0M471.4 230.3h0M282.9 429.9h0M547.6 211.8h0M556.3 192.6h0M342.5 328.1h0M280.0 428.4h0M371.4 354.4h0M210.7 436.5h0M515.3 202.1h0M480.6 274.7h0M479.4 271.0h0M410.0 337.0h0M599.9 176.1h0M387.7 307.5h0M590.3 167.1h0M365.5 358.5h0M586.3 160.9h0M423.1 329.6h0M476.4 234.8h0M232.3 457.2h0M272.7 436.8h0M501.6 194.8h0M301.7 407.7h0M295.0 362.6h0M490.8 217.6h0M620.1 137.4h0M245.4 407.1h0M297.2 379.6h0M292.1 414.0h0M336.0 336.1h0M370.1 358.2h0M573.0 166.4h0M455.4 291.9h0M264.2 387.9h0M386.5 285.5h0M546.7 201.0h0M317.0 349.0h0M390.4 296.8h0M579.2 167.1h0M465.0 238.2h0M286.0 384.9h0M459.2 294.2h0M533.1 231.5h0M394.6 291.6h0M471.7 277.5h0M488.0 227.7h0M496.5 256.6h0M451.3 255.3h0M564.1 188.9h0M568.7 181.4h0M256.3 417.5h0M258.6 437.7h0M187.8 459.2h0M486.8 206.0h0M228.8 420.1h0M516.6 200.3h0M397.0 330.6h0M383.5 342.1h0M414.2 277.5h0M537.2 174.5h0M474.7 238.7h0M295.8 369.8h0M420.8 270.8h0M635.2 123.3h0M547.3 211.6h0M388.6 338.2h0M218.3 451.3h0M327.6 351.9h0M367.2 310.3h0M223.9 418.7h0M538.3 173.3h0M580.6 166.3h0M457.1 230.7h0M555.5 190.2h0M602.0 137.8h0M469.9 237.0h0M560.1 182.7h0M298.8 415.0h0M269.7 434.5h0M269.3 397.9h0M278.1 430.8h0M507.6 243.3h0M451.8 287.8h0M371.9 317.7h0M311.9 402.3h0M441.1 300.4h0M399.6 298.1h0M501.3 211.6h0M422.0 312.4h0M474.5 212.6h0M575.3 155.7h0M413.5 286.3h0M614.6 144.7h0M361.2 363.8h0M555.5 198.8h0M552.1 164.1h0M573.5 189.7h0M570.3 186.6h0M413.2 284.9h0M442.8 254.1h0M566.8 160.0h0M562.1 149.4h0M335.5 330.9h0M549.5 209.1h0M529.1 185.7h0M506.6 247.7h0M564.1 195.0h0M501.1 215.7h0M541.0 218.0h0M594.6 160.0h0M574.3 175.0h0M503.3 210.1h0M544.7 183.2h0M335.9 379.8h0M241.0 427.4h0M470.8 216.1h0M429.7 257.5h0M329.7 351.9h0M441.8 252.3h0M293.3 415.2h0M515.2 246.1h0M551.0 195.2h0M330.1 345.1h0M410.3 287.3h0M472.1 273.0h0M352.7 372.8h0M355.2 323.7h0M553.9 179.8h0M608.9 169.3h0M536.8 221.1h0M439.8 262.4h0M354.5 369.6h0M548.4 177.3h0M262.3 413.7h0M428.2 310.2h0M561.7 168.8h0M288.9 423.3h0M206.8 469.1h0M580.1 186.0h0M527.8 187.7h0M239.6 455.4h0M495.2 257.6h0M372.0 318.1h0M557.9 195.0h0M422.6 313.9h0M425.1 317.7h0M332.0 392.5h0M561.8 195.2h0M464.6 282.0h0M393.1 303.1h0M232.9 431.1h0M584.0 157.8h0M557.3 188.7h0M345.9 337.0h0M376.0 312.7h0M484.4 261.3h0M267.1 431.5h0M287.2 418.7h0M437.3 268.3h0M553.9 160.5h0M569.9 183.7h0M606.2 149.4h0M358.1 330.8h0M599.5 147.1h0M456.6 284.6h0M490.5 263.5h0M471.9 239.5h0M328.5 401.3h0M379.7 348.2h0M612.3 137.6h0M381.6 344.7h0M499.4 212.7h0M455.7 234.3h0M522.5 235.8h0M578.7 172.4h0M469.5 228.8h0M362.8 326.6h0M221.4 418.6h0M391.5 294.2h0M307.6 368.1h0M535.9 227.2h0M585.0 189.5h0M575.0 179.3h0M523.6 199.8h0M414.8 274.6h0M448.0 252.0h0M275.6 384.5h0M559.4 199.4h0M404.4 337.5h0M556.2 197.2h0M252.2 423.7h0M309.2 367.9h0M313.7 351.7h0M576.7 167.6h0M597.1 146.2h0M574.4 167.4h0M554.5 176.2h0M338.7 378.8h0M371.7 352.4h0M480.2 227.4h0M295.6 412.4h0M550.6 200.2h0M264.7 431.1h0M281.9 391.9h0M573.0 162.6h0M421.8 275.2h0M616.9 153.6h0M464.8 243.1h0M584.4 167.8h0M336.1 385.1h0M550.1 214.4h0M465.4 226.5h0M511.3 187.6h0M203.9 485.2h0M264.9 415.6h0M535.9 229.3h0M179.4 460.5h0M252.0 443.9h0M502.0 207.3h0M445.3 258.1h0M449.1 256.7h0M407.3 334.8h0M572.9 167.0h0M322.8 355.3h0M547.5 197.9h0M522.8 232.3h0M454.3 254.4h0M301.0 361.7h0M557.1 191.4h0M524.7 196.2h0M324.4 345.0h0M442.2 304.6h0M592.4 170.3h0M353.9 365.1h0M406.4 281.3h0M567.4 169.7h0M299.1 417.0h0M549.3 204.6h0M368.5 321.1h0M621.7 128.4h0M463.6 241.9h0M349.9 337.1h0M556.1 206.0h0M334.4 335.3h0M577.4 163.5h0M449.4 256.4h0M235.4 413.1h0M556.0 199.3h0M451.5 257.3h0M264.2 424.6h0M521.5 193.6h0M257.2 435.1h0M480.5 224.4h0M451.2 256.1h0M605.7 156.4h0M568.6 174.3h0M593.7 160.0h0M254.4 439.6h0M483.3 229.0h0M242.8 450.2h0M337.4 334.9h0M576.3 156.6h0M265.9 415.7h0M440.6 298.4h0M576.7 152.9h0M376.1 316.5h0M262.6 429.9h0M611.3 137.2h0M564.9 185.6h0M606.5 136.0h0M372.6 354.3h0M577.1 168.3h0M484.1 225.4h0M194.0 448.8h0M426.9 311.6h0M516.4 193.2h0M456.3 286.2h0M455.4 240.9h0M555.4 195.5h0M293.4 377.5h0M537.9 221.6h0M226.2 434.4h0M490.7 225.6h0M421.7 273.9h0M496.0 256.3h0M415.0 325.1h0M328.0 341.5h0M278.5 383.0h0M611.0 145.5h0M554.8 175.6h0M469.3 231.4h0M343.3 374.3h0M515.4 205.3h0M596.2 137.4h0M593.5 176.1h0M487.5 259.5h0M400.8 341.1h0M410.1 285.7h0M408.5 289.4h0M320.3 357.8h0M478.6 218.8h0M559.9 167.5h0M328.1 348.9h0M597.1 154.0h0M425.9 307.5h0M382.8 351.5h0M259.0 413.5h0M491.1 265.0h0M481.9 209.8h0M280.0 425.4h0M440.0 300.2h0M488.1 208.1h0M494.7 220.9h0M590.6 140.4h0M550.7 189.6h0M565.5 179.8h0M326.7 386.4h0M433.2 255.8h0M477.4 230.7h0M260.1 408.7h0M591.2 144.2h0M560.3 158.6h0M420.3 313.8h0M560.7 176.8h0M557.9 205.3h0M564.9 187.2h0M548.5 198.7h0M264.7 437.7h0M478.8 233.1h0M533.6 185.1h0M449.3 253.3h0M555.3 196.2h0M221.9 446.1h0M592.1 174.2h0M501.4 251.9h0M421.3 280.7h0M399.3 332.3h0M287.2 383.5h0M441.4 304.8h0M573.1 182.5h0M533.4 184.0h0M590.3 163.4h0M567.9 166.8h0M479.8 214.7h0M558.7 169.9h0M463.7 247.4h0M449.6 290.3h0M261.0 434.6h0M542.5 180.6h0M352.7 370.3h0M480.9 230.1h0M573.0 189.8h0M569.7 143.4h0M437.3 310.9h0M555.9 193.7h0M387.7 294.5h0M570.0 182.2h0M477.6 268.7h0M521.0 184.3h0M308.9 367.7h0M627.2 128.9h0M268.8 422.9h0M377.8 304.6h0M569.9 191.1h0M544.6 198.7h0M587.4 160.4h0M381.7 311.9h0M552.3 196.8h0M605.6 146.7h0M530.0 230.6h0M219.9 418.5h0M593.6 136.5h0M388.6 337.7h0M399.2 344.9h0M581.2 172.1h0M389.1 302.1h0M536.4 171.9h0M478.0 266.8h0M558.7 189.2h0M559.9 176.8h0M529.2 189.3h0M395.3 341.9h0M255.9 417.9h0M562.9 163.2h0M509.4 204.7h0M549.0 176.5h0M471.7 237.6h0M552.2 177.8h0M592.4 160.4h0M448.0 256.5h0M511.3 198.9h0M271.7 434.7h0M299.0 351.1h0M314.6 359.7h0M564.5 182.0h0M571.9 182.3h0M489.7 221.8h0M481.9 224.3h0M268.1 394.1h0M571.8 179.8h0M533.5 225.8h0M379.7 350.0h0M223.6 468.7h0M542.1 171.5h0M462.8 237.3h0M323.1 394.4h0M535.8 185.7h0M383.9 308.7h0M407.3 335.2h0M487.8 212.3h0M439.3 314.4h0M329.4 353.5h0M544.9 182.6h0M304.4 417.9h0M433.6 267.7h0M312.6 400.1h0M565.6 175.3h0M317.1 395.4h0M456.1 245.8h0M502.9 211.2h0M502.5 204.2h0M381.7 345.7h0M590.5 176.0h0M559.5 186.3h0M562.0 166.0h0M384.3 305.0h0M593.9 158.2h0M595.8 163.2h0M468.9 241.2h0M311.3 352.7h0M371.1 351.4h0M226.6 459.6h0M592.9 154.9h0M436.2 268.1h0M323.5 393.7h0M482.5 230.5h0M453.1 252.7h0M613.5 139.6h0M391.6 336.9h0M235.2 405.8h0M585.9 166.8h0M266.8 443.0h0M545.8 203.4h0M305.2 407.1h0M579.8 176.6h0M304.8 407.4h0M337.8 335.3h0M350.4 333.5h0M372.1 320.1h0M371.0 311.4h0M561.2 199.2h0M468.7 230.1h0M594.3 175.6h0M288.8 384.2h0M258.4 438.2h0M386.2 342.5h0M266.7 395.8h0M242.2 401.4h0M263.7 422.6h0M464.5 277.9h0M544.4 193.1h0M609.4 156.8h0M268.3 435.8h0M315.7 399.0h0M423.0 315.4h0M566.8 194.4h0M603.1 163.2h0M546.8 179.9h0M592.7 163.2h0M354.0 331.2h0M376.7 304.6h0M581.0 192.3h0M414.2 320.4h0M310.6 357.3h0M441.8 263.6h0M354.6 321.5h0M238.4 423.4h0M611.0 136.6h0M311.3 418.3h0M266.5 388.7h0M461.9 246.1h0M481.6 216.5h0M448.6 303.2h0M457.1 219.3h0M530.1 193.3h0M551.7 185.9h0M397.7 290.5h0M526.0 188.0h0M420.3 281.2h0M563.6 175.0h0M487.0 222.8h0M565.6 178.6h0M571.8 154.7h0M571.4 156.4h0M548.3 209.9h0M350.8 331.1h0M573.5 200.6h0M270.6 438.0h0M340.9 377.3h0M437.9 268.1h0M474.0 211.1h0M264.0 425.2h0M536.3 188.2h0M206.5 473.5h0M366.3 361.2h0M445.2 307.4h0M282.6 389.9h0M358.5 324.4h0M486.2 229.4h0M597.0 142.4h0M466.0 240.8h0M297.1 376.7h0M323.7 347.5h0M562.4 201.1h0M388.4 304.6h0M250.3 421.1h0M578.7 141.9h0M473.3 217.9h0M437.3 262.3h0M508.5 206.3h0M595.8 161.4h0M298.3 413.2h0M394.3 347.7h0M439.2 253.9h0M257.7 431.8h0M286.6 387.2h0M355.1 364.4h0M597.1 152.9h0M566.0 157.1h0M255.8 433.7h0M499.9 192.6h0M384.5 348.8h0M570.8 195.0h0M268.3 429.0h0M246.6 408.7h0M239.3 411.8h0M521.3 184.9h0M562.2 177.5h0M349.3 374.9h0M423.1 320.2h0M409.5 324.2h0M573.9 175.0h0M456.6 286.3h0M420.8 315.1h0M579.0 183.2h0M327.6 342.4h0M467.5 238.8h0M286.0 421.6h0M582.7 156.6h0M257.2 436.8h0M605.3 161.0h0M432.4 306.3h0M573.0 149.9h0M290.2 385.1h0M289.2 422.4h0M296.2 377.3h0M442.3 256.8h0M558.3 199.9h0M515.3 199.3h0M341.3 327.6h0M293.8 416.1h0M260.5 437.5h0M421.0 312.8h0M359.0 325.8h0M601.7 161.6h0M632.7 125.8h0M491.3 217.0h0M355.0 329.4h0M545.7 185.7h0M576.8 173.7h0M580.9 175.3h0M400.9 331.6h0M473.5 239.4h0M317.8 353.5h0M388.7 340.6h0M344.0 330.0h0M306.1 366.8h0M586.8 149.2h0M615.5 145.7h0M544.5 188.6h0M589.6 169.6h0M514.7 200.5h0M275.4 384.7h0M537.6 169.6h0M189.9 490.8h0M288.2 424.1h0M461.2 241.4h0M576.9 160.6h0M325.2 400.9h0M467.2 229.2h0M437.8 306.1h0M258.2 416.0h0M471.0 233.4h0M358.9 320.6h0M308.2 403.4h0M597.5 188.8h0M334.8 384.3h0M561.3 184.2h0M430.7 264.0h0M260.2 415.3h0M470.1 234.4h0M335.4 338.5h0M562.7 196.0h0M472.1 239.9h0M561.1 160.3h0M332.1 347.7h0M400.0 337.3h0M402.0 292.6h0M637.6 135.1h0M545.8 206.1h0M507.7 244.6h0M486.5 262.8h0M323.1 392.3h0M478.6 226.7h0M574.5 196.1h0M343.4 329.8h0M524.9 186.1h0M414.6 321.3h0M337.9 379.9h0M351.3 331.3h0M405.8 324.1h0M563.3 188.7h0M374.3 313.4h0M275.6 365.9h0M465.7 234.8h0M567.5 181.4h0M587.2 145.0h0M281.6 425.4h0M452.6 250.0h0M558.8 197.4h0M485.8 262.3h0M567.0 164.7h0M405.2 294.1h0M257.7 414.7h0M520.2 193.0h0M599.8 141.2h0M591.9 192.4h0M548.7 191.4h0M453.2 291.7h0M508.9 190.6h0M561.5 197.8h0M380.0 309.3h0M560.4 192.3h0M486.0 269.7h0M544.4 187.1h0M230.6 430.0h0M507.3 245.5h0M585.9 153.5h0M252.0 411.7h0M550.1 194.9h0M407.4 323.7h0M450.5 252.1h0M509.8 193.1h0M478.3 217.2h0M601.3 158.2h0M575.0 178.7h0M500.2 213.5h0M399.2 351.5h0M281.9 391.8h0M439.2 299.5h0M571.5 150.7h0M333.3 381.5h0M268.3 393.2h0M396.6 338.0h0M545.9 210.1h0M305.9 356.8h0M385.3 358.7h0M538.8 172.6h0M477.9 268.2h0M344.0 340.5h0M379.9 312.1h0M324.9 347.4h0M606.8 137.7h0M571.5 204.5h0M409.4 290.7h0M487.2 263.4h0M270.6 398.2h0M207.2 453.9h0M268.8 418.9h0M205.2 481.1h0M349.6 371.7h0M605.2 143.2h0M408.3 325.5h0M612.0 143.9h0M477.7 233.5h0M358.4 330.0h0M449.4 292.2h0M596.5 167.8h0M271.9 393.4h0M401.3 335.2h0M432.0 262.5h0M416.3 281.5h0M262.9 427.8h0M484.8 226.5h0M552.9 201.6h0M555.8 175.6h0M313.9 398.1h0M551.8 200.5h0M596.1 138.0h0M551.1 185.8h0M551.8 193.4h0M499.5 251.2h0M233.6 407.4h0M588.2 176.4h0M315.2 361.0h0M554.6 205.7h0M479.5 231.6h0M604.9 134.8h0M431.4 305.6h0M242.2 456.5h0M600.3 153.1h0M515.1 198.8h0M286.8 422.5h0M546.1 165.4h0M346.7 371.4h0M568.7 186.7h0M487.6 217.3h0M453.7 292.4h0M623.5 132.5h0M550.7 166.8h0M295.7 414.6h0M518.3 199.5h0M596.1 173.9h0M535.5 179.9h0M562.4 191.2h0M377.8 314.1h0M291.4 425.9h0M465.5 278.5h0M630.6 140.4h0M333.9 392.8h0M542.9 179.4h0M366.5 313.3h0M355.4 326.8h0M344.0 331.3h0M607.7 154.6h0M294.4 415.4h0M574.8 169.2h0M456.6 225.7h0M429.5 309.6h0M328.6 342.7h0M393.7 335.0h0M429.5 266.2h0M432.3 270.6h0M381.4 344.5h0M424.4 325.4h0M222.6 465.8h0M363.5 324.5h0M488.6 219.0h0M560.0 177.5h0M328.4 342.5h0M421.1 278.4h0M561.4 154.1h0M208.6 478.5h0M214.8 446.1h0M239.7 409.2h0M478.3 274.5h0M340.3 378.7h0M274.2 430.2h0M376.6 299.9h0M403.5 327.5h0M579.7 165.8h0M445.5 247.2h0M599.8 174.3h0M573.5 159.8h0M434.4 252.0h0M299.6 417.9h0M472.8 235.2h0M557.9 197.7h0M361.6 312.9h0M432.4 270.2h0M577.6 173.5h0M498.0 262.2h0M450.7 292.7h0M363.8 326.5h0M256.7 433.6h0M555.2 173.6h0M484.8 221.2h0M424.6 310.4h0M490.0 223.9h0M267.7 439.2h0M511.1 203.2h0M267.0 397.2h0M642.1 125.0h0M344.6 341.6h0M355.3 321.1h0M542.1 168.8h0M583.3 175.2h0M324.5 403.2h0M447.2 295.9h0M261.5 411.2h0M547.4 204.4h0M530.7 234.6h0M601.3 144.8h0M596.8 147.5h0M432.5 263.3h0M500.8 252.4h0M274.2 385.6h0M262.1 432.2h0M327.7 387.9h0M262.8 424.8h0M568.7 179.3h0M454.8 251.9h0M428.7 310.3h0M238.5 442.7h0M505.1 213.0h0M300.9 368.3h0M592.7 144.1h0M374.3 309.4h0M317.7 358.9h0M549.3 189.0h0M261.2 402.0h0M582.8 160.9h0M510.6 245.9h0M264.9 422.5h0M401.2 334.9h0M341.3 339.3h0M385.1 297.7h0M222.0 426.5h0M483.2 214.0h0M464.0 228.2h0M548.2 208.5h0M263.6 433.3h0M439.7 263.6h0M572.3 190.3h0M235.3 434.5h0M584.1 165.7h0M287.0 377.8h0M256.6 413.6h0M394.6 344.9h0M518.9 184.7h0M241.1 413.2h0M293.5 382.5h0M590.8 156.8h0M557.8 189.5h0M315.9 358.4h0M410.9 284.3h0M409.4 290.6h0M407.1 285.6h0M600.8 160.1h0M258.1 438.1h0M551.3 176.9h0M286.4 423.4h0M356.4 316.8h0M582.9 162.8h0M249.6 429.2h0M563.6 188.8h0M517.1 239.6h0M443.9 295.8h0M520.4 192.2h0M200.6 485.4h0M445.9 294.4h0M302.7 407.0h0M568.6 191.9h0M266.2 401.1h0M594.7 164.9h0M326.5 343.4h0M319.7 397.1h0M464.3 277.3h0M600.6 160.0h0M549.7 193.0h0M546.8 213.7h0M606.0 158.1h0M247.0 413.2h0M527.6 182.9h0M299.2 373.0h0M294.2 379.4h0M250.4 443.4h0M427.1 273.8h0M585.9 171.9h0M563.6 192.4h0M536.1 182.8h0M543.7 178.1h0M572.4 173.0h0M518.8 181.4h0M577.8 196.5h0M510.9 206.8h0M281.2 435.9h0M561.2 188.3h0M602.7 152.6h0M261.8 395.3h0M257.0 438.1h0M205.4 469.1h0M575.6 170.1h0M625.3 132.2h0M545.2 199.5h0M219.8 435.0h0M266.5 395.7h0M555.5 169.8h0M520.7 198.3h0M451.1 252.6h0M485.5 265.3h0M502.1 205.5h0M531.7 191.6h0M529.5 194.6h0M427.5 270.6h0M473.6 226.4h0M474.4 273.9h0M249.3 448.1h0M577.6 166.6h0M549.5 197.3h0M421.0 315.7h0M471.9 234.4h0M583.8 163.1h0M524.4 185.4h0M381.0 308.4h0M365.4 301.8h0M308.9 408.3h0M456.2 286.3h0M423.1 313.2h0M342.7 343.3h0M554.7 175.1h0M467.6 238.7h0M367.5 322.0h0M350.8 332.4h0M261.2 426.6h0M556.0 188.8h0M275.2 395.6h0M433.1 304.6h0M601.1 137.0h0M601.8 157.4h0M302.1 406.5h0M468.2 287.9h0M457.8 298.8h0M580.1 162.5h0M500.0 216.1h0M402.9 294.9h0M596.4 140.8h0M225.4 439.5h0M557.6 172.5h0M497.1 211.8h0M552.6 199.8h0M466.7 233.5h0M366.3 320.8h0M358.0 365.4h0M286.6 363.2h0M312.2 361.3h0M399.2 329.0h0M369.4 353.5h0M597.9 146.6h0M555.9 203.2h0M505.4 251.6h0M547.4 212.2h0M391.2 303.1h0M319.4 355.8h0M537.5 174.9h0M590.9 171.4h0M392.8 342.7h0M492.2 218.1h0M596.7 164.9h0M490.0 220.6h0M471.7 233.6h0M597.6 170.3h0M261.1 404.3h0M366.6 357.9h0M448.8 252.1h0M243.8 451.6h0M370.0 321.1h0M212.1 430.5h0M468.6 275.7h0M374.3 306.2h0M397.7 332.7h0M551.7 170.6h0M586.6 184.0h0M201.6 463.0h0M579.7 170.6h0M549.4 189.9h0M265.9 417.4h0M383.0 309.8h0M254.8 440.2h0M312.0 367.7h0M554.7 193.6h0M621.1 146.6h0M488.5 225.2h0M584.5 162.7h0M514.8 198.7h0M490.8 257.0h0M493.0 255.5h0M575.2 181.1h0M521.7 189.5h0M339.6 338.8h0M330.3 352.8h0M592.3 167.7h0M459.5 238.3h0M566.8 168.6h0M352.3 371.0h0M266.2 433.3h0M342.2 388.9h0M444.0 298.9h0M248.2 443.4h0M575.9 144.7h0M572.6 165.6h0M314.0 364.0h0M579.4 189.2h0M552.0 183.7h0M287.7 365.9h0M309.3 360.7h0M566.8 147.1h0M439.1 254.4h0M339.2 345.8h0M327.0 352.7h0M460.8 247.7h0M606.2 140.4h0M600.6 185.9h0M408.3 331.2h0M614.1 161.2h0M232.3 420.3h0M419.6 277.4h0M522.4 197.3h0M528.0 189.7h0M576.8 173.4h0M562.2 192.0h0M486.9 228.0h0M384.2 296.8h0M593.8 176.2h0M557.5 173.0h0M217.8 449.1h0M481.0 232.7h0M514.5 199.2h0M501.8 205.9h0M390.2 343.1h0M475.8 276.5h0M631.0 143.6h0M376.0 351.5h0M461.5 226.0h0M543.0 218.5h0M520.6 232.1h0M503.9 206.6h0M574.7 138.0h0M481.4 233.2h0M474.8 235.7h0M299.6 408.7h0M559.1 173.8h0M165.0 461.7h0M568.6 182.1h0M357.8 368.9h0M569.4 162.2h0M600.6 172.3h0M258.2 402.9h0M422.5 323.0h0M545.7 178.6h0M242.7 429.3h0M553.0 216.9h0M606.6 141.5h0M553.9 209.5h0M549.0 149.8h0M269.4 398.5h0M453.8 244.5h0M291.8 378.0h0M446.1 252.7h0M554.5 181.7h0M351.9 375.4h0M587.5 174.6h0M220.0 421.8h0M575.1 181.5h0M595.8 167.0h0M374.0 352.6h0M310.3 357.5h0M383.8 309.2h0M548.4 204.5h0M561.4 188.3h0M608.0 141.9h0M434.9 269.5h0M533.0 188.3h0M231.5 455.1h0M552.7 171.4h0M591.8 144.0h0M452.9 306.5h0M292.2 430.4h0M599.3 167.5h0M583.3 157.7h0M473.6 232.3h0M204.7 427.6h0M357.2 328.9h0M287.5 422.1h0M267.7 425.2h0M323.1 353.4h0M293.0 380.0h0M379.8 350.5h0M235.1 452.8h0M531.5 190.4h0M261.0 407.7h0M632.7 134.1h0M560.3 170.1h0M545.0 187.9h0M544.5 201.2h0M252.8 450.0h0M564.2 156.7h0M252.1 443.2h0M403.6 327.1h0M544.1 183.3h0M382.1 355.6h0M297.7 364.3h0M571.0 184.5h0M560.7 187.6h0M339.7 340.5h0M241.3 457.1h0M564.6 188.6h0M398.5 292.2h0M350.6 377.8h0M528.0 184.3h0M585.7 181.3h0M235.7 444.5h0M531.8 224.7h0M281.8 383.1h0M538.4 158.3h0M553.7 197.2h0M605.9 143.8h0M453.9 285.6h0M278.5 425.3h0M523.1 179.4h0M550.1 175.7h0M586.1 174.1h0M320.1 358.1h0M586.2 160.5h0M495.9 270.7h0M614.8 138.7h0M257.3 430.5h0M345.1 341.3h0M416.8 276.6h0M263.6 432.5h0M460.2 282.1h0M242.0 455.2h0M382.7 292.1h0M553.7 177.5h0M303.4 368.8h0M340.8 375.8h0M578.9 160.6h0M233.6 409.5h0M312.0 399.2h0M630.5 129.2h0M288.6 379.2h0M559.6 165.0h0M264.0 403.9h0M381.4 312.7h0M567.3 198.1h0M589.2 174.3h0M258.1 442.9h0M290.4 416.8h0M550.5 183.0h0M551.9 199.2h0M308.6 407.0h0M441.3 299.8h0M442.6 264.0h0M547.3 193.2h0M400.1 333.3h0M538.7 187.0h0M336.3 381.1h0M431.7 307.9h0M304.3 371.2h0M526.6 175.3h0M549.4 207.2h0M547.7 201.3h0M557.9 179.6h0M549.4 201.5h0M309.1 350.6h0M586.5 154.0h0M565.0 182.4h0M164.0 485.6h0M561.8 156.5h0M447.7 303.4h0M446.0 255.5h0M580.1 146.8h0M207.4 444.4h0M551.3 174.7h0M610.0 134.9h0M377.0 311.5h0M322.3 349.4h0M249.3 428.7h0M545.1 216.3h0M227.1 467.3h0M481.2 233.2h0M340.1 339.2h0M590.8 139.8h0M569.9 183.5h0M414.0 319.7h0M582.4 178.4h0M573.8 162.5h0M432.0 327.7h0M264.4 401.0h0M291.5 381.2h0M573.5 156.9h0M491.3 265.7h0M595.5 142.9h0M373.6 312.1h0M540.1 186.1h0M422.3 310.5h0M525.0 229.9h0M258.5 428.7h0M550.7 184.1h0M312.7 364.9h0M563.6 189.8h0M550.3 203.9h0M549.5 207.2h0M565.7 174.3h0M284.6 383.0h0M600.4 150.4h0M628.7 141.2h0M517.5 193.1h0M591.7 145.8h0M298.9 418.1h0M235.3 413.4h0M464.6 281.7h0M422.9 277.3h0M228.8 434.3h0M401.0 338.5h0M605.0 151.5h0M244.4 440.1h0M420.0 281.6h0M359.8 320.2h0M248.9 445.8h0M546.9 179.7h0M475.3 269.0h0M551.3 182.4h0M251.3 447.5h0M530.5 190.0h0M487.1 226.9h0M513.2 201.3h0M309.5 358.5h0M441.2 295.5h0M299.6 409.5h0M309.4 355.2h0M468.1 225.6h0M548.3 175.1h0M572.7 189.5h0M348.9 374.1h0M624.8 140.5h0M363.3 318.8h0M517.2 191.8h0M246.8 411.7h0M426.9 307.4h0M366.5 375.8h0M186.6 493.6h0M494.5 213.7h0M442.0 297.2h0M406.0 283.6h0M557.9 202.5h0M283.5 388.2h0M493.6 210.7h0M471.3 272.3h0M293.4 382.0h0M265.2 422.9h0M509.4 242.0h0M276.5 381.0h0M424.6 311.4h0M563.2 189.7h0M557.4 160.1h0M390.2 337.7h0M552.3 195.6h0M509.2 207.8h0M373.5 312.7h0M255.7 389.5h0M301.9 368.5h0M423.6 276.2h0M259.0 437.2h0M554.6 191.7h0M570.6 179.8h0M377.2 309.6h0M345.4 335.9h0M347.8 372.6h0M540.9 219.7h0M561.4 201.0h0M567.7 198.7h0M489.0 227.2h0M544.6 198.8h0M554.9 177.3h0M327.2 390.0h0M406.7 288.9h0M367.3 319.7h0M463.0 247.2h0M551.4 204.2h0M266.3 404.9h0M369.4 305.8h0M596.0 140.3h0M580.3 177.8h0M454.4 247.1h0M544.8 195.8h0M543.5 182.5h0M454.1 240.2h0M331.1 342.6h0M264.9 429.6h0M575.6 168.3h0M581.4 169.4h0M438.4 262.0h0M446.1 261.3h0M564.1 186.0h0M560.0 200.9h0M509.8 242.7h0M541.8 176.8h0M409.5 285.2h0M570.5 159.1h0M281.1 386.3h0M243.6 400.9h0M300.9 375.8h0M277.7 388.4h0M259.7 409.9h0M258.2 436.4h0M567.8 173.3h0M525.2 233.3h0M341.6 377.0h0M399.9 329.8h0M259.9 430.6h0M577.5 183.5h0M520.3 200.6h0M258.0 409.3h0M406.9 282.3h0M435.7 269.8h0M474.3 272.9h0M547.3 189.4h0M368.8 317.2h0M427.5 311.3h0M282.3 387.2h0M608.9 138.8h0M392.1 304.0h0M576.0 175.5h0M550.0 197.9h0M614.9 134.2h0M412.1 322.1h0M478.7 222.5h0M374.7 316.0h0M566.3 177.6h0M318.6 360.2h0M344.5 327.4h0M367.3 322.1h0M342.2 328.1h0M518.0 180.5h0M343.4 385.7h0M569.5 181.7h0M287.5 420.5h0M573.4 151.3h0M442.8 263.7h0M446.4 248.5h0M284.6 382.1h0M630.8 130.8h0M528.1 182.8h0M227.4 444.5h0M267.5 415.1h0M242.1 449.7h0M327.6 391.1h0M506.9 200.1h0M491.4 211.2h0M231.5 408.6h0M535.6 162.7h0M526.5 234.6h0M629.2 131.9h0M433.0 309.0h0M564.2 172.9h0M471.5 232.3h0M546.6 200.0h0M564.5 188.4h0M406.7 324.2h0M565.9 154.8h0M571.5 135.9h0M521.1 198.3h0M572.6 175.7h0M547.2 203.8h0M215.3 443.3h0M616.5 146.9h0M554.9 200.6h0M334.5 348.8h0M506.3 213.1h0M568.3 181.7h0M545.6 203.9h0M497.4 218.3h0M510.7 247.6h0M593.4 165.5h0M317.6 410.1h0M409.6 322.9h0M296.3 369.3h0M558.5 186.3h0M419.3 279.9h0M591.1 149.6h0M445.7 252.5h0M292.5 377.9h0M546.5 189.7h0M552.1 200.0h0M570.6 182.9h0M558.3 187.5h0M500.4 217.2h0M592.0 158.9h0M605.7 163.8h0M358.3 325.1h0M558.3 189.8h0M364.9 316.8h0M441.9 298.1h0M405.1 335.7h0M404.1 339.6h0M553.4 176.5h0M559.2 186.5h0M581.7 191.5h0M499.7 216.6h0M395.7 295.6h0M548.4 205.4h0M412.5 286.5h0M579.0 138.0h0M563.7 200.0h0M225.1 414.1h0M459.3 227.0h0M388.8 346.5h0M258.0 420.2h0M412.1 319.7h0M545.0 212.6h0M594.6 157.6h0M295.3 381.0h0M442.0 261.0h0M362.7 321.8h0M533.2 183.3h0M532.3 237.7h0M489.3 223.9h0M316.5 399.5h0M289.9 375.5h0M576.3 173.5h0M621.2 157.4h0M501.9 212.5h0M225.0 421.0h0M575.2 192.5h0M250.7 442.8h0M558.1 199.9h0M544.9 215.3h0M510.5 202.7h0M310.8 367.6h0M542.3 180.8h0M368.1 316.2h0M556.9 208.4h0M572.6 171.0h0M354.7 308.3h0M421.7 313.4h0M451.6 292.5h0M298.7 377.9h0M536.9 187.4h0M595.9 174.8h0M595.9 141.4h0M347.9 325.7h0M356.7 365.9h0M537.7 185.4h0M470.8 239.9h0M569.2 179.1h0M205.1 436.0h0M553.3 191.8h0M570.9 175.0h0M379.3 349.4h0M204.2 475.6h0M471.8 231.5h0M238.7 445.9h0M464.6 232.2h0M365.8 319.7h0M400.4 297.6h0M468.7 236.1h0M368.2 316.3h0M332.5 387.3h0M514.2 207.1h0M262.4 430.4h0M399.7 334.8h0M560.8 182.3h0M265.4 396.6h0M574.7 186.0h0M563.9 195.6h0M381.0 352.1h0M545.6 183.7h0M549.5 206.1h0M632.7 135.1h0M551.5 202.1h0M307.7 367.5h0M554.5 204.6h0M465.4 241.1h0M555.7 187.9h0M294.7 381.7h0M564.6 171.9h0M346.9 327.4h0M391.9 299.8h0M547.7 182.5h0M520.2 199.2h0M534.5 180.0h0M440.3 265.4h0M235.1 458.2h0M298.5 409.4h0M372.5 310.5h0M331.6 388.3h0M441.0 245.4h0M559.9 188.4h0M570.9 184.0h0M334.2 342.1h0M506.7 249.6h0M453.6 290.0h0M554.3 195.1h0M604.6 150.3h0M408.6 322.4h0M564.9 187.0h0M403.3 332.7h0M383.6 359.4h0M455.9 250.5h0M211.8 471.4h0M468.9 218.8h0M301.0 408.9h0M462.1 232.6h0M580.8 166.9h0M371.3 379.8h0M554.3 160.6h0M568.3 171.3h0M300.6 408.9h0M471.9 275.6h0M515.5 191.3h0M280.0 384.6h0M497.3 220.6h0M252.1 421.0h0M442.3 258.6h0M564.7 179.6h0M264.9 427.1h0M267.9 424.7h0M527.1 178.7h0M575.5 161.4h0M394.3 299.6h0M358.3 310.6h0M418.5 279.1h0M384.3 307.8h0M488.3 225.2h0M264.1 414.6h0M344.8 338.4h0M370.1 310.9h0M342.2 321.6h0M417.0 324.8h0M359.5 327.9h0M407.2 336.8h0M376.8 352.7h0M274.9 390.9h0M626.9 129.0h0M445.5 259.9h0M267.1 424.7h0M283.1 385.0h0M260.1 430.9h0M572.3 190.3h0M589.6 142.7h0M556.2 197.2h0M383.3 303.5h0M317.8 393.6h0M372.0 351.8h0M558.8 192.5h0M345.7 318.5h0M314.7 364.6h0M285.4 383.2h0M290.8 420.4h0M530.6 178.2h0M589.2 179.1h0M556.4 211.3h0M573.2 190.5h0M535.2 178.5h0M252.7 404.9h0M503.6 209.1h0M379.1 345.9h0M483.0 218.7h0M208.7 481.5h0M496.2 195.6h0M334.6 382.7h0M473.8 225.8h0M557.3 189.8h0M593.2 164.3h0M229.3 415.0h0M286.8 419.8h0M307.8 369.6h0M338.7 342.8h0M251.7 404.5h0M554.0 158.6h0M498.4 251.0h0M507.4 203.7h0M569.5 160.2h0M527.9 192.6h0M350.9 330.1h0M514.8 206.5h0M246.0 444.8h0M555.6 202.1h0M561.3 169.3h0M396.2 336.3h0M236.9 459.0h0M344.6 340.5h0M601.0 149.3h0M374.8 358.4h0M284.5 420.7h0M421.7 327.9h0M499.3 249.4h0M554.6 184.0h0M286.3 369.2h0M594.6 163.0h0M391.0 339.6h0M510.8 243.8h0M243.6 455.7h0M540.4 217.4h0M265.7 409.8h0M417.0 322.4h0M454.9 246.8h0M529.3 168.4h0M474.3 275.3h0M402.3 293.2h0M556.9 185.6h0M539.7 184.7h0M231.7 411.0h0M444.3 248.8h0M532.5 182.4h0M287.9 379.3h0M545.6 200.1h0M252.4 445.2h0M381.1 345.6h0M310.4 401.1h0M231.9 426.8h0M222.0 450.8h0M578.8 179.3h0M551.0 201.4h0M366.5 363.0h0M410.3 281.9h0M260.3 404.6h0M478.7 235.5h0M619.3 142.3h0M560.8 160.1h0M480.3 219.2h0M408.6 289.1h0M426.5 275.3h0M587.0 167.6h0M411.1 319.5h0M519.7 234.8h0M233.9 420.6h0M327.8 351.9h0M572.9 177.2h0M591.2 151.0h0M325.6 395.7h0M500.1 257.3h0M329.0 385.8h0M622.6 149.6h0M327.8 348.9h0M422.1 274.6h0M335.6 332.8h0M586.8 136.0h0M544.8 185.9h0M420.8 314.7h0M302.6 421.0h0M230.4 451.8h0M330.1 389.0h0M518.0 236.3h0M470.7 233.3h0M222.4 441.7h0M412.7 335.2h0M271.2 431.2h0M304.5 413.0h0M549.3 184.0h0M439.7 253.7h0M349.2 324.4h0M560.2 166.1h0M602.5 165.4h0M429.1 314.2h0M405.8 326.5h0M305.7 371.6h0M589.3 170.6h0M328.0 386.5h0M570.8 181.2h0M556.6 183.9h0M464.0 247.2h0M428.7 273.3h0M546.6 185.1h0M438.1 266.5h0M521.4 201.3h0M361.1 315.4h0M342.3 377.7h0M535.3 228.2h0M414.8 332.4h0M169.5 478.1h0M451.7 288.1h0M558.4 200.1h0M568.9 179.9h0M466.0 239.3h0M373.4 314.5h0M261.6 408.4h0M547.8 193.2h0M509.9 207.1h0M337.4 383.5h0M469.7 273.1h0M259.5 414.3h0M291.5 384.3h0M544.4 183.8h0M371.7 317.5h0M315.0 364.8h0M445.4 292.4h0M430.4 270.6h0M381.3 311.1h0M597.1 164.4h0M292.3 415.6h0M595.7 158.3h0M545.4 205.7h0M294.0 375.6h0M440.0 265.5h0M510.3 202.1h0M555.5 192.4h0M579.2 154.0h0M561.4 197.5h0M500.1 217.0h0M415.4 324.1h0M253.3 397.6h0M620.7 134.7h0M563.5 155.9h0M595.3 165.9h0M547.5 189.4h0M336.7 379.8h0M551.7 202.3h0M578.0 148.1h0M242.8 448.4h0M566.2 164.7h0M293.2 381.3h0M569.4 165.7h0M266.8 420.4h0M396.9 331.4h0M423.0 275.1h0M267.8 402.5h0M396.2 332.3h0M566.9 159.4h0M510.0 201.8h0M616.2 147.7h0M367.9 354.7h0M562.4 197.6h0M400.1 292.9h0M571.6 181.9h0M448.8 300.4h0M321.7 357.9h0M366.7 315.0h0M308.9 403.1h0M244.9 447.7h0M566.9 173.7h0M561.3 177.9h0M567.6 167.2h0M293.6 413.5h0M251.8 403.8h0M572.2 193.1h0M494.3 254.2h0M551.8 172.5h0M530.5 234.3h0M302.4 411.6h0M436.1 299.9h0M267.8 416.5h0M299.7 374.2h0M379.3 311.8h0M555.3 168.2h0M556.2 185.3h0M383.8 308.2h0M602.9 159.7h0M403.0 325.7h0M265.5 430.8h0M465.6 243.7h0M471.2 284.5h0M370.0 310.6h0M335.8 346.0h0M256.5 406.1h0M488.4 204.1h0M380.4 312.9h0M607.6 135.3h0M568.2 185.5h0M267.3 423.7h0M231.6 458.8h0M411.9 322.8h0M495.4 212.1h0M427.6 263.5h0M589.0 168.7h0M381.7 347.0h0M373.8 308.7h0M551.9 204.2h0M377.1 314.1h0M444.1 247.8h0M545.7 188.3h0M428.5 272.7h0M292.9 367.2h0M418.3 281.0h0M563.3 185.5h0M550.1 200.6h0M293.7 377.8h0M343.3 336.5h0M525.0 186.4h0M576.2 161.1h0M574.7 178.8h0M518.6 188.5h0M436.1 300.1h0M562.1 195.6h0M233.2 426.0h0M601.0 163.0h0M351.4 329.9h0M266.8 414.8h0M352.5 376.8h0M518.1 241.4h0M308.4 407.4h0M494.0 254.5h0M455.3 291.1h0M549.9 199.7h0M440.4 302.6h0M532.6 176.4h0M552.3 193.3h0M311.3 401.9h0M610.1 138.7h0M229.5 467.9h0M288.7 386.3h0M338.1 393.4h0M433.5 307.8h0M296.7 422.5h0M385.8 341.8h0M447.2 295.2h0M380.5 313.3h0M554.2 191.7h0M255.3 416.6h0M357.0 326.2h0M470.2 225.5h0M580.9 158.1h0M231.6 421.8h0M260.1 428.0h0M470.0 281.2h0M621.4 134.5h0M597.1 168.9h0M301.2 410.2h0M307.7 402.2h0M323.3 355.0h0M561.7 179.8h0M241.7 415.5h0M573.5 151.9h0M458.2 232.0h0M268.2 429.9h0M395.7 337.0h0M268.6 423.8h0M516.2 236.2h0M362.5 322.3h0M462.9 227.0h0M312.1 407.9h0M471.6 227.5h0M283.9 423.9h0M291.8 382.9h0M497.2 211.0h0M262.0 408.6h0M557.0 190.6h0M500.9 248.2h0M293.0 379.8h0M626.6 138.3h0M234.0 448.8h0M400.5 296.4h0M252.6 417.2h0M637.1 126.0h0M556.2 174.5h0M467.4 233.1h0M374.9 299.8h0M439.6 297.3h0M344.7 383.6h0M569.7 181.7h0M556.1 198.9h0M342.6 330.7h0M593.5 154.7h0M546.1 190.3h0M608.6 136.0h0M555.1 184.6h0M392.3 303.4h0M418.7 324.6h0M298.6 377.5h0M572.9 154.6h0M469.0 242.0h0M448.7 258.5h0M530.1 226.8h0M240.5 445.2h0M620.4 139.3h0M496.6 217.8h0M584.0 166.8h0M289.9 416.2h0M314.7 352.9h0M485.7 262.0h0M560.6 195.0h0M347.3 334.0h0M603.0 139.3h0M543.3 174.2h0M473.0 235.7h0M466.0 241.1h0M440.7 263.2h0M266.8 394.8h0M583.3 155.5h0M412.2 283.9h0M474.0 271.1h0M549.4 199.9h0M354.6 325.9h0M567.9 180.8h0M484.4 203.8h0M385.1 304.5h0M553.7 210.3h0M496.0 217.9h0M278.8 386.8h0M360.8 360.8h0M545.1 192.7h0M571.0 183.9h0M266.4 420.5h0M455.5 247.8h0M305.6 352.8h0M460.9 211.8h0M577.5 178.3h0M267.8 395.6h0M340.5 389.2h0M510.8 206.4h0M323.0 353.9h0M497.3 257.9h0M261.5 398.5h0M600.6 160.5h0M586.7 142.5h0M267.8 410.5h0M261.3 420.2h0M558.4 192.8h0M465.1 241.6h0M283.8 377.6h0M458.2 283.9h0M417.5 315.8h0M323.3 394.5h0M321.3 353.9h0M228.7 468.1h0M291.5 415.3h0M295.7 376.5h0M532.3 186.7h0M606.3 154.0h0M611.0 136.1h0M551.8 193.3h0M576.5 180.4h0M578.9 181.5h0M460.4 239.1h0M625.0 132.4h0M314.9 357.9h0M443.7 300.6h0M262.6 437.7h0M386.2 305.6h0M524.2 193.4h0M597.6 165.6h0M329.9 393.1h0M549.4 179.3h0M366.7 357.5h0M552.1 187.0h0M580.0 171.2h0M422.2 316.4h0M500.9 208.6h0M284.5 429.0h0M385.6 344.9h0M598.8 138.4h0M202.1 475.1h0M574.6 180.7h0M336.3 332.1h0M500.2 260.1h0M460.3 248.7h0M566.6 192.8h0M625.2 134.7h0M218.1 469.7h0M382.9 349.6h0M571.8 164.8h0M241.5 450.1h0M367.0 311.3h0M559.1 194.7h0M200.9 478.5h0M293.6 417.4h0M229.0 433.4h0M368.2 367.3h0M495.7 261.6h0M554.8 201.5h0M611.1 150.3h0M544.6 209.9h0M452.7 286.6h0M340.2 337.1h0M542.8 168.4h0M614.2 136.9h0M472.6 271.0h0M514.2 247.1h0M547.3 188.2h0M527.1 188.3h0M575.7 165.1h0M552.7 198.1h0M263.6 433.7h0M402.0 287.0h0M299.3 374.4h0M401.2 332.7h0M595.0 159.2h0M610.0 159.2h0M407.4 285.6h0M246.0 449.3h0M547.1 215.3h0M348.5 335.0h0M375.4 352.8h0M531.8 227.9h0M525.5 185.4h0M553.5 205.4h0M535.8 189.5h0M294.1 381.6h0M541.9 172.3h0M593.9 179.7h0M549.4 170.9h0M534.1 177.3h0M370.2 321.2h0M540.8 224.6h0M253.6 394.2h0M554.3 187.0h0M382.0 312.2h0M318.9 399.1h0M574.2 142.1h0M465.1 278.7h0M577.1 196.0h0M403.6 329.1h0M363.6 323.0h0M585.3 138.6h0M564.8 183.2h0M506.5 207.1h0M467.3 236.7h0M509.9 205.4h0M323.1 390.4h0M635.4 123.4h0M418.4 321.5h0M467.6 234.0h0M490.1 209.7h0M300.5 375.2h0M558.9 172.9h0M288.5 382.5h0M461.6 288.3h0M344.1 340.8h0M328.0 352.7h0M487.9 219.1h0M507.7 249.3h0M626.3 134.9h0M378.8 313.4h0M266.1 418.9h0M555.2 192.6h0M502.8 211.1h0M323.5 402.5h0M349.9 332.0h0M295.4 375.8h0M560.0 179.8h0M202.7 476.9h0M530.8 193.2h0M253.9 415.9h0M578.2 172.0h0M383.4 303.3h0M501.3 215.9h0M263.7 435.8h0M249.4 434.9h0M442.8 294.2h0M356.0 329.4h0M440.9 310.0h0M335.7 379.4h0M447.4 260.4h0M609.1 144.8h0M598.9 182.3h0M467.2 279.4h0M613.1 153.5h0M511.9 206.0h0M273.5 398.8h0M559.2 158.2h0M496.9 221.0h0M575.5 191.8h0M264.8 434.8h0M359.9 363.2h0M628.8 126.2h0M482.9 218.3h0M238.9 458.1h0M423.0 316.3h0M599.0 166.3h0M559.6 197.6h0M437.4 299.8h0M310.7 367.5h0M252.8 441.5h0M382.0 311.3h0M562.3 149.5h0M359.7 318.8h0M329.6 353.9h0M270.0 398.1h0M447.5 252.7h0M419.0 277.3h0M263.5 422.8h0M289.9 416.4h0M580.4 144.6h0M354.6 368.9h0M600.3 168.5h0M384.7 306.0h0M539.1 169.2h0M413.6 317.9h0M285.8 425.8h0M633.2 124.5h0M386.6 350.9h0M573.2 192.0h0M559.0 187.1h0M324.6 333.4h0M405.1 338.0h0M495.9 220.0h0M406.4 290.2h0M569.6 179.5h0M321.8 357.7h0M596.5 161.9h0M342.9 328.1h0M364.4 294.5h0M546.5 193.0h0M368.6 355.1h0M576.0 164.4h0M572.2 175.2h0M547.3 205.5h0M429.7 262.2h0M312.9 397.4h0M430.6 273.4h0M576.3 184.8h0M436.7 266.5h0M406.0 288.3h0M566.5 186.6h0M264.7 423.6h0M402.1 329.7h0M436.8 309.4h0M579.8 164.1h0M457.0 289.3h0M370.4 353.9h0M363.4 308.4h0M554.4 182.6h0M338.3 342.8h0M412.3 288.5h0M547.4 213.6h0M465.2 239.4h0M439.6 296.8h0M296.9 414.5h0M614.4 137.1h0M550.6 199.0h0M469.4 240.9h0M591.9 169.4h0M356.3 325.0h0M377.7 313.5h0M381.0 344.6h0M346.5 326.2h0M268.2 405.5h0M312.4 397.8h0M609.8 134.6h0M591.8 175.0h0M495.9 221.8h0M509.5 202.7h0M494.8 220.2h0M562.6 152.3h0M470.6 272.9h0M555.2 195.4h0M381.4 312.3h0M424.8 309.2h0M563.3 164.0h0M319.9 396.0h0M548.9 166.4h0M392.0 298.7h0M515.5 239.6h0M564.6 168.0h0M603.2 143.8h0M235.2 459.3h0M563.4 184.5h0M491.9 202.5h0M284.9 423.2h0M412.4 277.6h0M346.9 376.9h0M582.5 183.8h0M508.6 205.8h0M242.4 454.2h0M550.7 180.2h0M499.9 212.3h0M543.4 177.3h0M388.3 343.8h0M479.0 226.0h0M549.6 167.0h0M343.8 341.2h0M478.1 220.7h0M364.5 326.5h0M358.2 306.2h0M228.7 468.7h0M483.2 224.0h0M433.1 307.9h0M563.8 200.8h0M480.2 228.0h0M369.0 355.8h0M439.9 309.0h0M307.1 423.3h0M571.1 171.8h0M422.6 262.2h0M257.3 437.2h0M477.2 266.9h0M304.7 404.1h0M374.8 348.4h0M266.1 407.9h0M392.4 300.6h0M390.5 345.8h0M585.1 168.3h0M512.6 204.5h0M527.6 181.1h0M520.4 201.1h0M362.1 313.0h0M580.6 162.9h0M197.5 477.3h0M539.4 219.9h0M572.0 164.2h0M236.4 457.6h0M553.1 178.7h0M431.6 264.8h0M389.1 304.3h0M207.4 435.0h0M603.5 145.6h0M380.0 344.6h0M305.8 407.2h0M331.4 386.4h0M594.5 173.1h0M527.5 190.5h0M571.1 185.6h0M559.1 192.0h0M547.5 192.5h0M237.7 429.7h0M490.9 221.3h0M556.1 203.0h0M559.4 182.9h0M342.4 343.6h0M412.6 322.2h0M330.8 342.3h0M331.8 383.4h0M317.9 355.5h0M574.8 195.1h0M405.8 330.6h0M547.4 172.1h0M576.7 157.5h0M584.4 145.7h0M503.3 212.2h0M339.2 388.2h0M326.1 344.0h0M544.9 177.8h0M274.6 429.9h0M283.4 388.7h0M398.8 338.1h0M373.3 355.9h0M340.9 333.6h0M598.2 142.4h0M356.4 326.7h0M297.9 376.6h0M198.3 458.1h0M547.1 204.0h0M439.3 314.3h0M545.4 206.3h0M426.1 269.9h0M373.8 299.3h0M601.0 165.9h0M254.6 440.3h0M348.6 331.5h0M617.2 144.9h0M374.3 311.1h0M330.8 384.7h0M435.5 263.5h0M425.9 326.9h0M558.6 180.6h0M452.3 250.6h0M446.1 253.8h0M215.9 469.1h0M414.2 320.5h0M585.2 164.3h0M540.6 178.9h0M333.3 343.0h0M395.4 298.4h0M273.0 435.0h0M245.3 410.5h0M489.3 209.7h0M497.0 184.5h0M451.5 244.1h0M551.7 174.5h0M262.3 438.2h0M401.9 328.9h0M553.8 213.2h0M357.1 321.0h0M217.6 459.5h0M318.7 359.0h0M444.0 295.3h0M292.5 377.2h0M449.0 256.0h0M527.9 226.3h0M548.6 189.3h0M439.8 264.6h0M585.0 158.2h0M571.3 180.7h0M278.6 378.7h0M561.2 197.0h0M476.6 235.0h0M366.2 320.1h0M455.7 291.2h0M365.2 299.8h0M441.5 250.9h0M561.5 184.3h0M474.2 236.3h0M568.6 186.1h0M555.0 190.3h0M528.2 228.0h0M566.1 180.5h0M430.3 273.8h0M595.4 167.7h0M443.1 303.4h0M268.5 414.1h0M568.7 174.2h0M313.0 354.9h0M370.9 321.3h0M420.6 328.6h0M556.7 169.3h0M261.6 412.2h0M561.7 203.1h0M328.9 343.5h0M436.5 248.4h0M607.1 135.9h0M581.1 153.4h0M606.6 146.3h0M618.4 143.0h0M389.6 304.5h0M534.1 183.7h0M523.7 191.0h0M466.8 231.2h0M385.4 342.1h0M426.2 311.4h0M386.5 294.1h0M289.8 426.4h0M585.6 137.4h0M306.3 408.0h0M420.7 267.2h0M466.7 287.0h0M584.7 167.8h0M319.0 400.7h0M434.1 263.6h0M316.1 398.3h0M276.0 392.7h0M583.8 168.0h0M270.0 398.2h0M228.4 456.1h0M341.8 326.4h0M576.3 166.0h0M510.7 205.7h0M376.3 314.0h0M341.3 375.2h0M277.2 389.9h0M296.9 375.1h0M498.3 210.0h0M272.4 430.2h0M479.0 225.6h0M592.0 169.5h0M483.2 230.8h0M267.1 409.4h0M330.6 390.1h0M552.8 197.7h0M327.5 389.3h0M368.8 355.8h0M229.6 460.6h0M260.2 405.2h0M479.0 227.8h0M340.8 378.8h0M483.6 222.6h0M254.5 438.5h0M547.2 209.3h0M211.5 437.6h0M595.6 172.6h0M551.7 194.1h0M552.9 191.7h0M357.8 326.5h0M489.2 216.1h0M436.1 268.8h0M562.6 163.9h0M580.5 157.0h0M376.2 311.3h0M271.4 434.0h0M554.3 197.6h0M597.9 184.3h0M467.6 237.4h0M556.0 153.5h0M449.7 255.4h0M511.5 206.7h0M427.1 270.2h0M582.7 160.3h0M268.1 393.8h0M457.3 248.6h0M548.1 198.0h0M426.5 271.6h0M464.0 231.0h0M297.7 379.3h0M506.3 243.6h0M518.1 198.5h0M335.1 390.3h0M432.9 313.6h0M590.8 175.3h0M339.5 325.4h0M573.5 167.9h0M606.6 165.3h0M296.6 358.6h0M248.3 437.9h0M288.0 369.0h0M468.5 238.8h0M372.5 319.3h0M248.0 437.0h0M466.7 279.5h0M258.7 435.8h0M252.4 439.0h0M476.7 215.2h0M505.7 209.6h0M409.1 321.5h0M467.4 229.8h0M260.3 429.1h0M310.0 367.5h0M402.3 289.8h0M370.5 317.8h0M272.3 432.3h0M263.4 401.7h0M336.9 397.8h0M334.5 346.6h0M562.6 185.5h0M301.8 368.1h0M292.2 377.2h0M319.0 359.4h0M484.1 268.3h0M318.4 357.0h0M241.7 414.9h0M553.7 193.4h0M253.6 442.4h0M326.5 387.0h0M575.4 158.5h0M448.8 252.1h0M335.8 347.4h0M490.8 259.8h0M301.0 368.4h0M321.4 360.4h0M360.0 318.9h0M427.6 319.3h0M545.4 178.6h0M245.2 422.8h0M398.1 344.4h0M589.4 144.8h0M569.8 193.3h0M340.1 387.6h0M579.0 168.1h0M422.7 314.1h0M556.8 148.5h0M296.3 369.2h0M542.5 174.3h0M441.6 305.3h0M192.8 458.9h0M439.1 266.7h0M453.3 291.7h0M277.2 388.2h0M336.5 342.6h0M277.1 390.0h0M368.9 311.0h0M581.0 161.2h0M534.0 222.1h0M473.7 238.2h0M407.0 328.1h0M553.6 185.1h0M366.3 320.0h0M550.1 194.0h0M561.2 201.8h0M322.4 399.1h0M260.1 422.5h0M242.4 419.3h0M514.6 200.5h0M301.0 372.5h0M566.5 165.8h0M466.8 281.4h0M376.4 350.2h0M546.4 188.3h0M246.0 449.0h0M572.7 179.7h0M525.3 196.0h0M410.9 280.2h0M274.6 429.0h0M633.8 124.9h0M571.5 160.7h0M549.0 205.0h0M464.2 282.6h0M278.9 374.6h0M593.6 134.9h0M489.1 222.6h0M521.1 231.8h0M464.6 238.7h0M577.4 182.1h0M364.3 325.6h0M456.9 239.4h0M579.2 191.8h0M261.7 430.8h0M429.9 309.3h0M411.0 328.8h0M521.4 232.4h0M573.7 178.1h0M446.6 296.0h0M426.0 265.7h0M360.8 319.9h0M339.8 330.6h0M248.4 443.2h0M634.8 124.0h0M568.4 173.4h0M555.9 183.1h0M360.0 316.6h0M532.3 190.9h0M553.9 202.3h0M606.5 140.6h0M386.4 341.3h0M568.3 172.6h0M459.3 242.5h0M288.1 419.0h0M372.0 306.8h0M441.5 258.3h0M210.3 443.4h0M396.9 298.4h0M503.5 214.5h0M380.1 306.1h0M435.6 304.8h0M355.1 370.4h0M510.1 241.3h0M352.2 368.5h0M630.0 129.1h0M329.7 345.9h0M505.5 204.9h0M361.3 313.1h0M265.7 424.1h0M554.9 194.7h0M549.9 197.5h0M559.1 193.2h0M331.1 339.0h0M339.0 340.9h0M437.7 306.2h0M327.3 330.2h0M553.1 197.7h0M591.8 172.8h0M394.8 297.8h0M611.3 157.9h0M607.9 137.5h0M579.3 174.4h0M298.5 366.0h0M484.7 265.5h0M312.8 402.8h0M249.6 438.9h0M547.0 192.8h0M549.2 213.4h0M551.3 171.8h0M249.4 407.2h0M558.6 160.6h0M307.3 371.7h0M561.0 185.0h0M386.4 342.2h0M485.8 227.4h0M334.3 394.3h0M467.5 242.9h0M547.7 194.5h0M424.9 322.5h0M617.8 134.1h0M398.6 332.7h0M560.1 151.9h0M334.3 381.8h0M639.0 121.3h0M257.6 439.7h0M318.5 348.4h0M544.5 191.1h0M425.0 257.9h0M417.3 319.7h0M495.5 222.3h0M554.1 195.7h0M585.1 157.7h0M235.4 409.2h0M537.5 221.6h0M571.5 193.2h0M450.5 255.6h0M256.6 402.8h0M495.8 252.4h0M294.5 376.0h0M499.7 216.9h0M575.8 150.7h0M549.7 189.9h0M352.3 327.0h0M332.9 336.5h0M581.9 147.4h0M579.0 183.4h0M439.6 303.6h0M256.2 403.6h0M521.5 200.1h0M619.0 138.2h0M594.7 166.7h0M436.4 299.6h0M295.8 374.1h0M569.3 162.6h0M308.2 370.3h0M609.2 140.4h0M257.8 400.8h0M522.2 198.4h0M558.7 173.7h0M467.0 237.2h0M387.7 306.9h0M402.6 330.2h0M370.2 360.1h0M530.5 231.6h0M386.4 294.2h0M617.9 135.8h0M605.1 164.4h0M393.5 302.4h0M281.5 422.4h0M511.1 197.9h0M537.0 180.2h0M458.8 286.3h0M574.0 164.3h0M560.9 197.3h0M548.1 171.1h0M240.4 445.0h0M521.0 199.1h0M513.3 196.9h0M331.9 347.8h0M245.7 451.6h0M610.9 147.5h0M598.3 148.5h0M254.2 433.2h0M417.7 318.5h0M166.8 501.1h0M457.3 249.7h0M528.3 193.5h0M553.9 194.7h0M568.7 160.9h0M260.1 410.2h0M452.7 287.3h0M416.7 325.4h0M290.6 424.2h0M580.5 174.8h0M576.7 170.4h0M496.7 253.9h0M512.4 205.6h0M254.7 403.5h0M339.3 332.8h0M608.1 162.0h0M359.3 360.8h0M554.6 173.7h0M587.1 172.1h0M249.0 419.2h0M265.2 438.8h0M610.2 138.1h0M499.6 250.1h0M292.6 380.7h0M446.7 247.7h0M438.3 263.9h0M389.4 338.1h0M254.7 440.9h0M255.0 414.3h0M469.4 229.1h0M388.8 351.3h0M423.4 319.2h0M330.0 384.7h0M358.5 317.2h0M413.4 286.1h0M557.3 195.0h0M571.4 164.3h0M297.7 378.6h0M545.8 199.6h0M579.6 178.1h0M444.1 236.5h0M581.5 179.7h0M558.3 189.7h0M236.4 444.0h0M577.5 171.8h0M599.9 155.1h0M455.6 253.3h0M355.1 330.9h0M311.3 367.0h0M260.8 403.7h0M403.6 290.1h0M263.0 430.6h0M247.0 418.3h0M248.0 436.0h0M573.4 188.7h0M389.7 347.9h0M484.2 223.9h0M574.3 179.5h0M555.8 209.9h0M378.9 313.9h0M478.2 280.4h0M278.9 386.9h0M426.4 266.3h0M575.9 178.1h0M569.8 148.1h0M574.1 177.2h0M518.4 192.3h0M513.7 204.0h0M513.3 194.8h0M212.7 471.4h0M261.2 421.6h0M245.2 448.5h0M579.4 183.4h0M463.6 231.4h0M377.1 313.5h0M489.1 223.2h0M175.4 451.7h0M530.2 166.8h0M210.4 480.6h0M370.3 355.7h0M553.9 178.2h0M346.2 326.0h0M602.4 178.1h0M557.6 162.8h0M487.8 222.3h0M281.6 390.4h0M535.6 183.8h0M439.2 267.1h0M524.8 232.9h0M377.2 315.0h0M488.4 220.8h0M552.1 192.4h0M214.8 473.8h0M193.9 450.1h0M383.7 353.3h0M328.0 355.5h0M393.5 343.6h0M487.2 228.8h0M256.4 439.4h0M633.3 132.4h0M513.5 191.8h0M380.5 313.0h0M486.7 263.4h0M333.8 348.4h0M251.6 451.7h0M386.4 300.1h0M530.6 228.2h0M312.9 362.4h0M432.1 313.5h0M295.3 375.0h0M548.6 184.6h0M371.2 310.4h0M388.8 303.3h0M226.9 431.7h0M260.9 433.4h0M633.9 127.0h0M408.3 336.7h0M335.2 385.6h0M553.7 202.5h0M454.9 254.4h0M295.3 379.1h0M452.8 296.3h0M437.5 315.0h0M253.2 406.7h0M389.6 344.0h0M606.1 133.0h0M517.0 244.2h0M286.8 423.8h0M489.1 259.9h0M427.9 308.2h0M477.7 231.4h0M604.4 138.1h0M478.7 231.6h0M284.1 390.1h0M330.7 383.4h0M545.9 211.2h0M268.5 400.9h0M525.5 233.5h0M547.1 207.5h0M596.9 148.1h0M571.5 205.2h0M584.2 159.2h0M576.5 137.8h0M331.8 349.9h0M401.0 290.9h0M341.4 336.5h0M387.6 342.7h0M557.0 160.2h0M445.9 296.6h0M553.5 192.2h0M565.6 154.3h0M563.7 153.9h0M343.8 336.8h0M262.5 430.4h0M607.9 165.2h0M435.4 317.8h0M551.3 188.9h0M507.7 191.5h0M554.8 187.9h0M252.3 415.8h0M289.0 417.7h0M386.0 353.5h0M596.3 148.0h0M572.3 151.1h0M430.1 271.7h0M369.5 322.5h0M253.3 448.1h0M341.3 378.0h0M352.3 371.0h0M264.3 428.1h0M564.2 149.4h0M593.5 166.2h0M416.7 271.2h0M339.0 338.7h0M583.6 168.9h0M323.7 348.6h0M530.2 189.2h0M247.0 409.8h0M298.7 409.8h0M254.1 431.2h0M442.7 300.9h0M459.6 237.4h0M501.5 210.6h0M556.3 202.9h0M428.5 309.0h0M594.2 144.6h0M581.2 156.4h0M432.7 307.1h0M175.8 501.4h0M478.9 267.0h0M450.5 291.4h0M506.1 211.7h0M466.4 283.8h0M357.5 362.7h0M447.3 291.3h0M587.6 156.4h0M596.5 171.1h0M537.5 220.7h0M257.1 411.2h0M555.3 196.3h0M600.5 173.9h0M399.6 331.5h0M554.0 187.2h0M364.5 323.2h0M536.2 171.8h0M438.8 319.1h0M337.3 337.2h0M462.1 238.8h0M460.3 248.7h0M494.0 213.7h0M386.0 292.6h0M573.7 169.6h0M314.3 396.3h0M292.7 371.5h0M359.5 365.4h0M519.0 201.6h0M607.1 140.2h0M490.5 224.3h0M246.6 443.0h0M389.6 301.2h0M489.0 221.7h0M354.4 329.2h0M574.3 164.6h0M424.3 315.4h0M457.2 240.0h0M570.5 204.0h0M621.5 137.0h0M445.4 261.3h0M486.9 223.1h0M398.5 336.8h0M381.7 307.4h0M437.6 303.1h0M253.3 409.3h0M494.1 258.3h0M568.5 156.3h0M526.4 233.8h0M379.8 308.2h0M501.5 216.3h0M346.9 372.7h0M292.6 423.0h0M574.2 179.8h0M375.8 304.6h0M559.5 192.1h0M336.9 342.7h0M378.1 354.4h0M476.3 217.7h0M338.2 385.9h0M438.3 304.9h0M362.4 327.3h0M256.7 407.1h0M399.8 298.2h0M463.5 246.7h0M457.9 285.3h0M474.8 269.5h0M532.4 179.9h0M540.7 182.9h0M248.4 439.6h0M379.4 359.4h0M416.6 324.1h0M253.6 423.6h0M550.5 171.6h0M398.7 331.4h0M588.0 161.5h0M576.2 182.1h0M408.0 328.0h0M292.0 425.8h0M431.2 309.8h0M503.5 215.0h0M357.9 325.7h0M568.5 165.6h0M340.1 334.5h0M598.4 158.1h0M495.8 218.3h0M530.7 230.1h0M506.4 206.0h0M449.4 258.1h0M577.4 155.9h0M332.4 395.4h0M545.2 187.8h0M440.9 264.3h0M385.0 340.7h0M490.3 218.8h0M548.8 169.8h0M557.1 196.2h0M297.6 379.5h0M364.0 363.1h0M475.6 228.7h0M572.9 186.2h0M353.5 331.1h0M294.3 418.8h0M314.3 401.5h0M302.7 371.5h0M471.9 216.0h0M297.3 377.9h0M399.7 294.3h0M375.4 351.9h0M293.3 379.3h0M317.9 353.5h0M562.9 186.9h0M627.1 126.6h0M275.2 435.3h0M487.1 223.2h0M458.2 236.8h0M564.1 186.5h0M392.5 302.3h0M495.9 191.0h0M338.6 385.1h0M334.6 329.3h0M599.4 159.4h0M550.2 193.1h0M536.9 181.1h0M598.4 135.7h0M359.4 360.6h0M567.9 175.5h0M286.9 383.9h0M271.5 434.2h0M546.6 208.0h0M578.8 176.8h0M301.7 418.6h0M376.1 347.5h0M511.0 241.0h0M558.7 186.2h0M512.8 206.5h0M520.7 190.7h0M307.6 362.8h0M463.6 235.5h0M518.1 202.9h0M398.6 334.0h0M577.4 174.4h0M550.8 204.7h0M402.6 283.6h0M502.3 211.4h0M407.0 333.9h0M557.8 194.0h0M344.3 333.0h0M511.4 207.8h0M478.5 267.7h0M524.7 197.1h0M420.4 312.7h0M608.2 173.4h0M447.5 260.5h0M577.9 178.5h0M431.1 320.0h0M329.1 344.4h0M461.1 283.9h0M477.8 231.2h0M268.0 411.4h0M441.0 247.8h0M453.9 252.9h0M510.8 197.1h0M310.1 401.4h0M244.0 415.7h0M586.5 145.9h0M534.2 227.5h0M496.3 216.0h0M307.3 363.7h0M504.8 258.4h0M268.2 407.3h0M408.5 286.9h0M546.6 184.2h0M414.7 283.9h0M379.7 310.5h0M250.3 436.7h0M352.8 333.4h0M560.5 187.6h0M268.7 425.2h0M297.8 410.4h0M580.4 173.8h0M390.1 346.3h0M552.4 183.0h0M337.0 384.7h0M548.5 184.4h0M548.0 194.8h0M554.0 201.3h0M421.3 280.7h0M512.0 201.2h0M448.3 304.3h0M347.6 337.8h0M327.4 355.0h0M361.2 324.8h0M452.3 245.8h0M264.9 416.3h0M272.5 393.9h0M513.7 198.9h0M313.6 362.4h0M393.2 354.1h0M618.5 133.5h0M332.5 332.3h0M304.2 362.2h0M549.3 207.7h0M257.2 436.5h0M241.0 457.3h0M615.7 132.5h0M340.6 335.1h0M410.9 325.9h0M295.1 415.6h0M550.4 204.1h0M359.4 329.0h0M625.2 146.9h0M340.1 375.8h0M510.4 203.4h0M555.5 170.3h0M559.7 197.3h0M290.2 416.1h0M600.3 149.6h0M430.0 268.7h0M398.8 293.6h0M348.0 332.3h0M357.1 318.0h0M261.7 405.7h0M500.5 204.1h0M547.9 201.4h0M272.8 441.2h0M381.7 302.1h0M498.1 200.8h0M621.7 134.4h0M527.3 183.5h0M443.1 263.5h0M462.6 240.7h0M316.1 363.1h0M422.5 269.9h0M271.6 430.9h0M390.9 297.5h0M587.2 164.0h0M551.5 201.6h0M423.1 269.2h0M418.6 280.9h0M628.3 127.4h0M549.0 150.4h0M265.2 409.2h0M248.9 447.3h0M260.8 431.0h0M558.4 185.2h0M448.7 301.7h0M502.3 216.2h0M397.8 338.0h0M423.4 328.2h0M312.1 355.5h0M318.1 358.8h0M250.0 413.0h0M309.0 365.6h0M488.2 263.2h0M339.5 380.4h0M321.3 391.9h0M263.9 415.3h0M556.2 179.5h0M268.8 430.3h0M289.1 419.7h0M415.1 276.3h0M562.1 170.2h0M389.6 298.3h0M554.0 169.6h0M469.4 284.2h0M426.1 264.7h0M433.9 257.4h0M566.1 177.8h0M564.6 187.4h0M265.1 430.6h0M328.4 344.8h0M370.5 356.6h0M614.8 136.0h0M386.8 347.9h0M459.8 280.5h0M525.6 229.7h0M461.5 244.9h0M555.9 189.4h0M234.6 451.0h0M422.7 280.1h0M390.4 295.8h0M411.7 268.2h0M328.2 354.9h0M499.0 257.7h0M233.7 403.7h0M588.5 148.4h0M341.3 341.4h0M307.3 354.3h0M464.2 235.0h0M574.2 153.2h0M546.3 212.2h0M435.8 300.6h0M544.9 197.4h0M264.2 431.5h0M264.6 438.1h0M296.5 370.7h0M330.1 339.8h0M361.8 319.8h0M463.3 234.5h0M556.8 152.2h0M305.1 364.0h0M404.7 326.4h0M366.7 309.0h0M555.5 187.1h0M381.2 358.8h0M580.1 155.2h0M470.1 280.9h0M256.2 438.3h0M533.1 186.1h0M392.1 342.3h0M416.9 323.4h0M459.2 242.6h0M561.2 195.0h0M344.7 329.2h0M405.2 328.0h0M595.0 165.5h0M257.7 437.8h0M385.2 306.2h0M510.4 240.7h0M559.6 192.6h0M504.5 250.6h0M492.0 221.2h0M346.2 374.4h0M568.9 155.5h0M551.0 210.7h0M564.9 176.3h0M251.4 453.7h0M517.0 202.1h0M563.7 170.9h0M596.9 155.3h0M260.4 398.8h0M192.8 491.5h0M305.0 368.6h0M307.6 358.3h0M259.7 412.3h0M367.8 368.4h0M514.2 192.1h0M337.7 336.0h0M380.2 313.3h0M307.1 371.7h0M554.2 191.0h0M544.3 214.7h0M326.3 348.5h0M553.9 201.3h0M404.1 292.9h0M275.1 396.2h0M349.3 325.2h0M533.7 183.2h0M247.7 421.1h0M536.2 181.6h0M546.4 201.0h0M555.9 180.2h0M592.2 169.9h0M569.4 186.6h0M365.7 356.9h0M169.2 508.3h0M331.1 383.4h0M416.6 321.7h0M476.0 271.9h0M522.9 236.8h0M553.3 173.8h0M381.9 342.7h0M420.2 319.1h0M528.4 173.4h0M384.0 308.0h0M424.7 309.8h0M491.9 219.5h0M260.3 445.6h0M327.4 356.0h0M552.3 185.3h0M608.5 135.4h0M587.9 158.0h0M563.4 192.1h0M429.4 306.0h0M459.6 283.9h0M422.2 317.0h0M421.4 280.7h0M419.4 315.6h0M322.9 351.3h0M373.9 298.0h0M570.5 193.9h0M567.4 182.0h0M548.2 185.5h0M353.8 312.4h0M622.7 136.8h0M354.4 327.1h0M458.5 287.2h0M290.5 420.3h0M266.6 435.5h0M224.7 412.0h0M262.3 442.4h0M243.9 455.9h0M549.8 172.7h0M334.0 350.1h0M268.6 435.8h0M387.3 300.0h0M481.7 224.2h0M613.9 159.0h0M304.5 372.9h0M521.6 191.9h0M325.8 349.9h0M281.6 389.5h0M261.3 439.9h0M341.0 336.6h0M573.1 197.7h0M520.0 174.8h0M554.2 193.2h0M398.2 298.7h0M299.0 376.8h0M467.4 240.5h0M478.5 233.3h0M527.9 195.4h0M460.9 247.4h0M375.7 310.3h0M212.5 453.9h0M454.5 217.0h0M473.2 273.9h0M445.5 293.2h0M350.9 322.8h0M254.6 406.8h0M582.6 180.7h0M316.1 402.8h0M617.3 159.0h0M327.9 341.8h0M230.5 414.2h0M436.5 260.1h0M583.7 172.9h0M336.0 340.5h0M448.1 258.1h0M231.4 466.2h0M600.8 137.4h0M474.6 268.9h0M581.1 170.3h0M431.9 262.5h0M269.4 437.6h0M441.6 307.7h0M567.1 191.5h0M597.5 144.1h0M520.7 195.7h0M395.2 291.9h0M595.3 174.9h0M548.5 205.9h0M364.8 323.3h0M394.6 341.0h0M490.8 260.4h0M490.1 225.9h0M254.2 413.6h0M569.9 178.2h0M399.9 330.5h0M553.5 215.5h0M264.2 417.5h0M387.9 346.8h0M484.8 261.1h0M403.6 288.5h0M562.1 178.4h0M441.6 260.2h0M553.7 190.6h0M253.8 435.7h0M551.0 174.4h0M415.2 285.4h0M301.9 367.9h0M412.6 323.7h0M591.1 167.6h0M404.1 327.0h0M468.5 240.0h0M469.9 240.7h0M381.3 346.0h0M262.3 400.7h0M621.2 131.6h0M494.2 255.4h0M376.5 291.9h0M352.0 335.1h0M526.5 227.7h0M390.9 344.3h0M622.4 150.1h0M570.0 170.1h0M453.5 291.0h0M322.4 392.6h0M463.6 289.5h0M580.0 149.5h0M373.9 315.7h0M278.1 388.7h0M435.7 269.8h0M354.6 365.2h0M287.8 420.1h0M374.3 306.7h0M429.9 274.5h0M245.6 417.5h0M386.1 349.0h0M277.7 430.6h0M458.8 245.1h0M313.9 362.5h0M574.3 178.7h0M454.2 292.7h0M640.9 118.5h0M578.4 158.9h0M470.3 275.9h0M374.8 306.5h0M446.0 244.8h0M553.3 176.3h0M584.9 167.5h0M536.9 186.8h0M259.5 411.2h0M467.0 283.0h0M599.8 162.1h0M299.0 373.0h0M262.8 429.9h0M280.3 390.1h0M236.8 462.7h0M261.5 437.0h0M544.9 180.2h0M430.5 310.0h0M278.1 383.4h0M257.4 406.4h0M544.0 174.4h0M339.7 377.1h0M593.0 150.1h0M326.4 347.1h0M572.0 185.2h0M533.4 160.7h0M569.0 183.9h0M581.2 154.5h0M336.9 345.6h0M548.2 190.2h0M367.0 308.3h0M327.3 387.7h0M481.8 220.8h0M553.1 183.9h0M608.6 137.8h0M434.0 251.6h0M183.8 483.2h0M362.9 320.9h0M207.5 477.5h0M575.2 157.3h0M464.9 236.5h0M444.5 298.9h0M487.0 260.6h0M611.9 146.9h0M164.7 489.4h0M389.4 298.1h0M462.3 282.3h0M270.8 400.4h0M251.2 444.3h0M253.9 412.5h0M436.1 266.1h0M386.7 339.6h0M613.9 140.5h0M456.2 284.0h0M326.2 355.5h0M480.8 269.7h0M443.5 261.7h0M227.0 432.9h0M544.6 184.7h0M412.8 324.3h0M388.7 303.0h0M255.9 418.4h0M379.6 304.2h0M570.0 140.6h0M375.5 317.0h0M348.4 334.5h0M243.5 431.5h0M385.0 343.4h0M269.2 437.3h0M439.8 301.6h0M545.4 198.5h0M196.2 470.8h0M510.9 242.0h0M553.2 209.2h0M501.6 203.9h0M556.8 174.5h0M407.6 342.9h0M554.7 176.7h0M355.6 373.0h0M206.9 433.3h0M332.3 343.6h0M395.6 348.1h0M497.1 211.0h0M270.2 435.7h0M453.8 241.5h0M447.7 245.8h0M427.8 314.0h0M496.5 190.3h0M572.5 167.8h0M594.7 157.5h0M249.4 420.7h0M552.4 193.7h0M628.4 131.1h0M573.9 188.6h0M602.4 153.8h0M557.1 175.3h0M429.7 263.9h0M421.7 324.5h0M425.2 271.0h0M367.0 303.0h0M548.5 201.1h0M557.9 167.1h0M571.8 149.7h0M549.8 203.3h0M350.7 324.6h0M429.8 270.2h0M279.9 383.4h0M406.6 329.2h0M490.1 211.9h0M385.8 307.9h0M595.0 139.6h0M446.5 251.0h0M429.2 312.7h0M428.4 265.1h0M471.6 228.6h0M616.9 137.7h0M216.4 438.5h0M566.3 190.2h0M460.7 287.6h0M579.1 153.1h0M277.0 441.7h0M420.7 271.6h0M500.1 208.8h0M577.0 166.7h0M594.0 178.8h0M563.1 178.9h0M557.4 203.8h0M434.5 267.1h0M339.8 343.7h0M227.6 432.6h0M334.8 348.9h0M259.7 429.9h0M442.4 245.0h0M578.7 154.4h0M588.3 151.3h0M464.8 235.3h0M263.0 428.0h0M585.7 169.8h0M419.4 277.9h0M252.3 416.6h0M554.6 197.6h0M546.4 180.3h0M542.3 172.1h0M544.4 200.9h0M525.4 233.8h0M553.3 198.0h0M311.1 351.2h0M282.1 388.7h0M357.9 324.3h0M358.2 363.1h0M614.5 140.1h0M534.7 186.4h0M409.9 329.6h0M426.5 261.8h0M557.5 188.7h0M248.2 439.8h0M546.5 199.8h0M580.5 161.1h0M397.6 296.3h0M555.8 166.5h0M348.1 339.3h0M557.0 176.0h0M569.8 167.1h0M528.4 230.2h0M488.7 210.9h0M477.7 234.0h0M561.1 183.5h0M552.9 192.1h0M571.2 175.6h0M554.7 159.9h0M303.2 406.1h0M305.7 412.8h0M249.9 440.0h0M592.0 164.5h0M461.5 226.7h0M595.1 182.0h0M386.6 342.4h0M321.0 398.5h0M580.9 182.4h0M570.4 179.6h0M550.0 199.1h0M441.2 300.6h0M227.2 447.3h0M347.0 333.2h0M368.9 307.7h0M241.5 400.1h0M423.1 318.1h0M570.0 175.3h0M592.5 168.2h0M485.9 221.3h0M590.0 158.7h0M534.8 223.9h0M396.0 299.9h0M343.1 330.7h0M349.7 327.0h0M350.4 336.2h0M556.3 187.5h0M507.8 198.2h0M568.0 193.9h0M329.9 384.9h0M518.3 202.0h0M523.3 194.3h0M452.8 297.8h0M267.6 418.1h0M311.9 398.4h0M312.6 367.7h0M467.5 275.1h0M337.0 381.2h0M603.0 157.3h0M316.6 363.5h0M297.4 379.7h0M595.1 139.2h0M529.9 181.0h0M640.7 125.6h0M602.6 154.9h0M609.9 149.0h0M413.3 321.8h0M513.7 203.1h0M473.6 223.7h0M230.6 408.3h0M381.0 308.3h0M375.9 304.7h0M590.3 157.5h0M582.5 156.7h0M423.5 316.9h0M601.9 132.5h0M562.0 192.1h0M392.2 341.2h0M561.1 197.4h0M432.4 306.7h0M327.0 391.0h0M534.5 223.2h0M277.0 392.0h0M243.8 448.3h0M565.3 154.3h0M261.4 406.7h0M454.3 295.5h0M322.3 359.1h0M227.4 469.2h0M275.4 428.6h0M586.5 111.3h0M565.7 127.7h0M544.4 145.7h0M612.3 110.3h0M616.4 114.9h0M622.0 109.9h0M623.2 116.4h0M636.0 99.8h0M638.6 100.2h0M647.7 100.8h0M633.3 111.3h0M641.0 107.3h0M641.6 113.3h0M639.0 117.4h0M653.5 110.7h0M664.2 112.3h0M675.4 112.3h0M654.5 117.8h0M662.6 117.4h0M647.0 121.4h0M632.0 121.4h0M662.6 134.5h0M650.7 136.2h0M654.1 137.2h0M641.0 133.5h0M645.0 133.0h0M641.0 139.6h0M642.4 142.0h0M660.2 150.1h0M648.7 155.2h0M659.6 165.7h0M632.9 154.7h0M628.3 151.7h0M627.9 161.8h0M628.9 164.8h0M633.9 168.9h0M634.3 171.9h0M621.8 174.5h0M627.3 179.6h0M605.0 195.8h0M590.5 201.8h0M620.8 162.8h0M636.0 125.0h0M630.0 128.0h0M626.0 122.0h0M634.0 136.0h0M626.0 140.0h0M621.0 132.0h0M93.3 492.3h0M111.4 505.6h0M117.9 492.9h0M134.4 488.6h0M130.3 498.5h0M133.7 498.5h0M134.4 512.2h0M146.1 539.9h0M149.7 522.7h0M166.2 517.9h0M175.8 512.2h0M130.3 531.7h0M149.3 477.9h0M146.7 485.5h0M151.8 489.2h0M154.9 470.2h0M157.9 451.3h0M160.4 452.7h0M165.7 466.7h0M163.1 473.8h0M167.0 473.0h0M173.3 468.7h0M179.9 445.7h0M176.4 454.8h0M178.5 461.5h0M196.5 493.7h0M206.2 488.6h0M214.4 481.0h0M221.5 475.3h0M231.8 480.0h0M227.7 471.2h0M183.6 494.4h0M186.5 494.4h0M170.3 506.7h0M162.1 511.8h0M141.5 500.5h0M143.6 505.6h0M392.6 375.9h0M319.5 434.0h0M190.9 413.9h0M200.3 413.4h0M192.2 424.1h0M200.8 426.8h0M205.6 424.9h0M208.3 433.5h0M186.3 438.9h0M180.2 446.1h0M193.6 440.2h0M200.3 437.5h0M203.0 444.2h0M178.8 453.6h0M177.5 461.7h0M185.5 457.6h0M192.2 453.6h0M197.6 449.6h0M190.9 463.0h0M182.9 468.4h0M165.4 467.0h0M172.1 470.2h0M165.4 475.0h0M162.7 480.4h0M170.8 477.7h0M213.7 432.2h0M216.4 425.5h0M224.4 412.1h0M225.8 418.8h0M219.0 440.2h0M232.5 479.9h0M239.2 477.2h0M245.9 472.9h0M245.9 464.3h0M239.2 464.3h0M276.7 455.5h0M213.7 480.4h0M205.6 488.5h0M196.3 492.5h0M221.7 475.1h0M229.8 471.0h0M253.9 456.3h0M259.3 450.9h0M337.2 307.6h0M357.4 293.4h0M358.4 299.5h0M371.5 285.8h0M384.6 279.3h0M396.8 253.0h0M401.8 268.2h0M406.9 261.1h0M406.9 268.2h0M416.0 251.0h0M428.0 251.0h0M428.1 335.9h0M431.1 325.8h0M406.9 349.0h0M466.5 294.5h0M474.5 293.4h0M497.6 168.1h0M462.2 213.2h0M526.9 159.1h0M516.8 164.1h0M529.9 258.0h0M588.5 225.7h0M572.3 231.2h0M568.3 224.7h0M573.3 224.1h0M585.5 212.6h0M287.3 444.0h0M345.5 399.5h0M343.4 393.5h0M259.6 374.3h0M265.7 372.3h0M270.7 372.3h0M361.1 376.8h0M342.9 393.3h0" fill="none" stroke="#0000ff" stroke-width="6.1" stroke-linecap="round"/>
<path d="M165.0 491.8L165.9 493.7L168.0 494.0L166.5 495.5L166.8 497.6L165.0 496.6L163.1 497.6L163.4 495.5L161.9 494.0L164.0 493.7ZM129.3 529.2L130.3 531.1L132.4 531.4L130.8 532.9L131.2 535.0L129.3 534.0L127.4 535.0L127.8 532.9L126.3 531.4L128.4 531.1ZM125.0 529.4L126.0 531.4L128.1 531.7L126.6 533.1L126.9 535.2L125.0 534.2L123.2 535.2L123.5 533.1L122.0 531.7L124.1 531.4ZM150.3 514.4L151.3 516.3L153.4 516.6L151.9 518.1L152.2 520.2L150.3 519.2L148.5 520.2L148.8 518.1L147.3 516.6L149.4 516.3ZM185.0 480.6L185.9 482.5L188.0 482.8L186.5 484.3L186.9 486.4L185.0 485.4L183.1 486.4L183.5 484.3L181.9 482.8L184.1 482.5ZM183.2 480.6L184.1 482.5L186.2 482.8L184.7 484.3L185.1 486.4L183.2 485.4L181.3 486.4L181.7 484.3L180.1 482.8L182.3 482.5ZM124.7 527.1L125.7 529.0L127.8 529.3L126.3 530.8L126.6 532.9L124.7 531.9L122.9 532.9L123.2 530.8L121.7 529.3L123.8 529.0ZM185.1 478.0L186.1 479.9L188.2 480.2L186.6 481.7L187.0 483.8L185.1 482.8L183.2 483.8L183.6 481.7L182.1 480.2L184.2 479.9ZM148.9 504.9L149.8 506.8L151.9 507.1L150.4 508.6L150.8 510.7L148.9 509.7L147.0 510.7L147.4 508.6L145.9 507.1L148.0 506.8ZM159.1 499.9L160.0 501.8L162.1 502.1L160.6 503.6L161.0 505.7L159.1 504.7L157.2 505.7L157.6 503.6L156.0 502.1L158.1 501.8ZM163.9 494.8L164.8 496.7L166.9 497.0L165.4 498.5L165.8 500.6L163.9 499.6L162.0 500.6L162.3 498.5L160.8 497.0L162.9 496.7ZM145.1 509.4L146.0 511.3L148.2 511.6L146.6 513.1L147.0 515.2L145.1 514.2L143.2 515.2L143.6 513.1L142.1 511.6L144.2 511.3ZM131.7 520.6L132.6 522.5L134.7 522.8L133.2 524.3L133.6 526.4L131.7 525.4L129.8 526.4L130.2 524.3L128.7 522.8L130.8 522.5ZM152.0 512.6L152.9 514.5L155.0 514.8L153.5 516.3L153.9 518.4L152.0 517.4L150.1 518.4L150.5 516.3L149.0 514.8L151.1 514.5ZM146.3 510.6L147.2 512.5L149.3 512.8L147.8 514.3L148.1 516.4L146.3 515.4L144.4 516.4L144.7 514.3L143.2 512.8L145.3 512.5ZM188.1 480.0L189.1 481.9L191.2 482.2L189.6 483.7L190.0 485.8L188.1 484.8L186.2 485.8L186.6 483.7L185.1 482.2L187.2 481.9ZM158.8 501.5L159.7 503.4L161.8 503.7L160.3 505.2L160.6 507.3L158.8 506.3L156.9 507.3L157.2 505.2L155.7 503.7L157.8 503.4ZM130.4 523.5L131.4 525.4L133.5 525.7L132.0 527.2L132.3 529.3L130.4 528.3L128.6 529.3L128.9 527.2L127.4 525.7L129.5 525.4ZM157.5 502.9L158.4 504.8L160.5 505.1L159.0 506.6L159.3 508.7L157.5 507.7L155.6 508.7L155.9 506.6L154.4 505.1L156.5 504.8ZM175.4 491.0L176.4 492.9L178.5 493.2L177.0 494.7L177.3 496.8L175.4 495.8L173.6 496.8L173.9 494.7L172.4 493.2L174.5 492.9ZM154.8 510.0L155.8 511.9L157.9 512.2L156.4 513.7L156.7 515.8L154.8 514.8L153.0 515.8L153.3 513.7L151.8 512.2L153.9 511.9ZM186.4 484.0L187.4 485.9L189.5 486.2L187.9 487.7L188.3 489.8L186.4 488.8L184.5 489.8L184.9 487.7L183.4 486.2L185.5 485.9ZM130.0 522.1L130.9 524.0L133.0 524.3L131.5 525.8L131.9 527.9L130.0 526.9L128.1 527.9L128.5 525.8L127.0 524.3L129.1 524.0ZM172.4 490.7L173.3 492.7L175.4 493.0L173.9 494.4L174.3 496.5L172.4 495.5L170.5 496.5L170.9 494.4L169.3 493.0L171.4 492.7ZM137.8 517.8L138.7 519.7L140.8 520.0L139.3 521.5L139.6 523.6L137.8 522.6L135.9 523.6L136.2 521.5L134.7 520.0L136.8 519.7ZM150.4 510.0L151.3 511.9L153.4 512.2L151.9 513.7L152.2 515.7L150.4 514.8L148.5 515.7L148.8 513.7L147.3 512.2L149.4 511.9ZM160.6 501.1L161.5 503.0L163.6 503.3L162.1 504.8L162.5 506.9L160.6 505.9L158.7 506.9L159.1 504.8L157.5 503.3L159.6 503.0ZM184.0 487.6L184.9 489.5L187.0 489.8L185.5 491.3L185.8 493.4L184.0 492.4L182.1 493.4L182.4 491.3L180.9 489.8L183.0 489.5ZM131.0 521.7L131.9 523.6L134.1 523.9L132.5 525.4L132.9 527.5L131.0 526.5L129.1 527.5L129.5 525.4L128.0 523.9L130.1 523.6ZM157.3 505.4L158.2 507.3L160.3 507.6L158.8 509.1L159.2 511.2L157.3 510.2L155.4 511.2L155.8 509.1L154.2 507.6L156.4 507.3ZM147.2 509.0L148.1 510.9L150.2 511.2L148.7 512.7L149.0 514.8L147.2 513.8L145.3 514.8L145.6 512.7L144.1 511.2L146.2 510.9ZM135.0 516.0L135.9 517.9L138.0 518.2L136.5 519.7L136.9 521.8L135.0 520.8L133.1 521.8L133.5 519.7L131.9 518.2L134.0 517.9ZM142.9 517.9L143.8 519.8L145.9 520.1L144.4 521.6L144.8 523.7L142.9 522.7L141.0 523.7L141.4 521.6L139.9 520.1L142.0 519.8ZM148.3 509.4L149.2 511.3L151.3 511.6L149.8 513.1L150.2 515.2L148.3 514.2L146.4 515.2L146.8 513.1L145.2 511.6L147.4 511.3ZM142.0 511.2L142.9 513.1L145.0 513.5L143.5 514.9L143.8 517.0L142.0 516.0L140.1 517.0L140.4 514.9L138.9 513.5L141.0 513.1ZM152.1 502.0L153.1 503.9L155.2 504.2L153.7 505.7L154.0 507.8L152.1 506.8L150.3 507.8L150.6 505.7L149.1 504.2L151.2 503.9ZM145.3 506.1L146.2 508.0L148.3 508.3L146.8 509.8L147.1 511.9L145.3 510.9L143.4 511.9L143.7 509.8L142.2 508.3L144.3 508.0ZM131.2 523.2L132.1 525.1L134.2 525.4L132.7 526.9L133.1 529.0L131.2 528.0L129.3 529.0L129.7 526.9L128.1 525.4L130.2 525.1ZM129.6 526.6L130.6 528.5L132.7 528.8L131.1 530.3L131.5 532.4L129.6 531.4L127.7 532.4L128.1 530.3L126.6 528.8L128.7 528.5ZM141.4 516.2L142.4 518.2L144.5 518.5L143.0 519.9L143.3 522.0L141.4 521.0L139.6 522.0L139.9 519.9L138.4 518.5L140.5 518.2ZM176.2 481.9L177.1 483.8L179.2 484.1L177.7 485.6L178.1 487.7L176.2 486.7L174.3 487.7L174.7 485.6L173.2 484.1L175.3 483.8ZM166.5 492.6L167.4 494.5L169.5 494.8L168.0 496.3L168.4 498.4L166.5 497.4L164.6 498.4L165.0 496.3L163.5 494.8L165.6 494.5ZM148.3 507.1L149.3 509.0L151.4 509.3L149.8 510.7L150.2 512.8L148.3 511.9L146.4 512.8L146.8 510.7L145.3 509.3L147.4 509.0ZM180.9 485.1L181.9 487.0L184.0 487.4L182.4 488.8L182.8 490.9L180.9 489.9L179.0 490.9L179.4 488.8L177.9 487.4L180.0 487.0ZM170.4 494.3L171.3 496.2L173.4 496.5L171.9 498.0L172.3 500.1L170.4 499.1L168.5 500.1L168.9 498.0L167.4 496.5L169.5 496.2ZM150.8 505.6L151.8 507.5L153.9 507.8L152.4 509.3L152.7 511.4L150.8 510.4L149.0 511.4L149.3 509.3L147.8 507.8L149.9 507.5ZM154.1 504.0L155.0 505.9L157.1 506.2L155.6 507.7L156.0 509.8L154.1 508.8L152.2 509.8L152.6 507.7L151.0 506.2L153.1 505.9ZM140.0 510.2L140.9 512.1L143.0 512.4L141.5 513.9L141.9 516.0L140.0 515.0L138.1 516.0L138.5 513.9L136.9 512.4L139.0 512.1ZM164.3 490.7L165.2 492.6L167.3 492.9L165.8 494.4L166.2 496.4L164.3 495.5L162.4 496.4L162.8 494.4L161.3 492.9L163.4 492.6ZM188.2 482.9L189.2 484.8L191.3 485.1L189.8 486.6L190.1 488.7L188.2 487.7L186.4 488.7L186.7 486.6L185.2 485.1L187.3 484.8ZM186.9 476.2L187.9 478.1L190.0 478.5L188.4 479.9L188.8 482.0L186.9 481.0L185.0 482.0L185.4 479.9L183.9 478.5L186.0 478.1ZM179.3 487.5L180.3 489.4L182.4 489.7L180.9 491.2L181.2 493.3L179.3 492.3L177.5 493.3L177.8 491.2L176.3 489.7L178.4 489.4ZM137.7 518.0L138.7 520.0L140.8 520.3L139.2 521.7L139.6 523.8L137.7 522.8L135.8 523.8L136.2 521.7L134.7 520.3L136.8 520.0ZM153.8 508.5L154.8 510.4L156.9 510.7L155.3 512.2L155.7 514.3L153.8 513.3L151.9 514.3L152.3 512.2L150.8 510.7L152.9 510.4ZM137.2 519.1L138.2 521.0L140.3 521.3L138.7 522.8L139.1 524.9L137.2 523.9L135.3 524.9L135.7 522.8L134.2 521.3L136.3 521.0ZM139.8 519.0L140.8 520.9L142.9 521.2L141.4 522.7L141.7 524.8L139.8 523.8L138.0 524.8L138.3 522.7L136.8 521.2L138.9 520.9ZM183.7 480.2L184.6 482.1L186.7 482.4L185.2 483.9L185.5 486.0L183.7 485.0L181.8 486.0L182.1 483.9L180.6 482.4L182.7 482.1ZM151.4 506.7L152.3 508.6L154.4 508.9L152.9 510.4L153.3 512.4L151.4 511.5L149.5 512.4L149.9 510.4L148.3 508.9L150.4 508.6ZM124.4 520.9L125.4 522.8L127.5 523.1L126.0 524.6L126.3 526.7L124.4 525.7L122.6 526.7L122.9 524.6L121.4 523.1L123.5 522.8ZM143.9 514.9L144.8 516.8L146.9 517.1L145.4 518.6L145.8 520.6L143.9 519.7L142.0 520.6L142.4 518.6L140.8 517.1L142.9 516.8ZM145.5 512.2L146.5 514.1L148.6 514.5L147.0 515.9L147.4 518.0L145.5 517.0L143.6 518.0L144.0 515.9L142.5 514.5L144.6 514.1ZM141.0 515.4L141.9 517.3L144.0 517.6L142.5 519.1L142.9 521.2L141.0 520.2L139.1 521.2L139.5 519.1L137.9 517.6L140.0 517.3ZM146.1 511.4L147.0 513.3L149.1 513.6L147.6 515.1L147.9 517.2L146.1 516.2L144.2 517.2L144.5 515.1L143.0 513.6L145.1 513.3ZM149.6 504.2L150.6 506.2L152.7 506.5L151.1 507.9L151.5 510.0L149.6 509.0L147.7 510.0L148.1 507.9L146.6 506.5L148.7 506.2ZM155.1 503.6L156.1 505.5L158.2 505.8L156.7 507.2L157.0 509.3L155.1 508.4L153.3 509.3L153.6 507.2L152.1 505.8L154.2 505.5ZM180.3 485.7L181.2 487.6L183.3 487.9L181.8 489.4L182.2 491.4L180.3 490.5L178.4 491.4L178.8 489.4L177.3 487.9L179.4 487.6ZM128.0 526.5L129.0 528.4L131.1 528.7L129.6 530.2L129.9 532.3L128.0 531.3L126.2 532.3L126.5 530.2L125.0 528.7L127.1 528.4ZM177.2 485.4L178.2 487.3L180.3 487.6L178.7 489.1L179.1 491.2L177.2 490.2L175.3 491.2L175.7 489.1L174.2 487.6L176.3 487.3ZM182.2 478.7L183.1 480.6L185.2 480.9L183.7 482.4L184.1 484.5L182.2 483.5L180.3 484.5L180.7 482.4L179.2 480.9L181.3 480.6ZM128.6 520.3L129.5 522.2L131.6 522.5L130.1 524.0L130.5 526.1L128.6 525.1L126.7 526.1L127.1 524.0L125.5 522.5L127.6 522.2ZM185.6 479.3L186.6 481.2L188.7 481.5L187.1 483.0L187.5 485.1L185.6 484.1L183.7 485.1L184.1 483.0L182.6 481.5L184.7 481.2ZM147.8 510.3L148.7 512.3L150.8 512.6L149.3 514.0L149.7 516.1L147.8 515.1L145.9 516.1L146.3 514.0L144.7 512.6L146.8 512.3ZM180.7 487.6L181.6 489.6L183.7 489.9L182.2 491.3L182.6 493.4L180.7 492.4L178.8 493.4L179.2 491.3L177.6 489.9L179.7 489.6ZM152.3 507.2L153.3 509.1L155.4 509.4L153.9 510.9L154.2 513.0L152.3 512.0L150.5 513.0L150.8 510.9L149.3 509.4L151.4 509.1ZM151.1 507.9L152.0 509.8L154.1 510.1L152.6 511.6L153.0 513.7L151.1 512.7L149.2 513.7L149.6 511.6L148.0 510.1L150.1 509.8ZM131.7 522.8L132.7 524.7L134.8 525.0L133.3 526.5L133.6 528.6L131.7 527.6L129.9 528.6L130.2 526.5L128.7 525.0L130.8 524.7ZM187.9 481.3L188.9 483.2L191.0 483.5L189.5 485.0L189.8 487.1L187.9 486.1L186.1 487.1L186.4 485.0L184.9 483.5L187.0 483.2ZM154.4 501.2L155.3 503.1L157.4 503.4L155.9 504.9L156.2 507.0L154.4 506.0L152.5 507.0L152.8 504.9L151.3 503.4L153.4 503.1ZM164.8 497.3L165.7 499.2L167.8 499.5L166.3 501.0L166.7 503.1L164.8 502.1L162.9 503.1L163.3 501.0L161.7 499.5L163.8 499.2ZM198.1 470.4L199.0 472.3L201.1 472.6L199.6 474.1L200.0 476.2L198.1 475.2L196.2 476.2L196.5 474.1L195.0 472.6L197.1 472.3ZM205.8 466.8L206.8 468.7L208.9 469.0L207.3 470.5L207.7 472.6L205.8 471.6L203.9 472.6L204.3 470.5L202.8 469.0L204.9 468.7ZM211.8 459.1L212.7 461.0L214.8 461.3L213.3 462.8L213.7 464.9L211.8 463.9L209.9 464.9L210.3 462.8L208.7 461.3L210.8 461.0ZM207.4 466.6L208.3 468.5L210.4 468.8L208.9 470.3L209.2 472.4L207.4 471.4L205.5 472.4L205.8 470.3L204.3 468.8L206.4 468.5ZM213.2 460.9L214.1 462.8L216.2 463.1L214.7 464.6L215.1 466.7L213.2 465.7L211.3 466.7L211.7 464.6L210.2 463.1L212.3 462.8ZM213.1 457.7L214.0 459.6L216.1 459.9L214.6 461.4L215.0 463.5L213.1 462.5L211.2 463.5L211.6 461.4L210.0 459.9L212.1 459.6ZM216.2 456.8L217.1 458.7L219.2 459.0L217.7 460.5L218.0 462.6L216.2 461.6L214.3 462.6L214.6 460.5L213.1 459.0L215.2 458.7ZM215.0 449.6L215.9 451.5L218.0 451.8L216.5 453.3L216.9 455.4L215.0 454.4L213.1 455.4L213.5 453.3L211.9 451.8L214.0 451.5ZM196.6 470.7L197.5 472.6L199.6 472.9L198.1 474.4L198.4 476.4L196.6 475.5L194.7 476.4L195.0 474.4L193.5 472.9L195.6 472.6ZM209.8 455.8L210.7 457.7L212.8 458.0L211.3 459.5L211.6 461.6L209.8 460.6L207.9 461.6L208.2 459.5L206.7 458.0L208.8 457.7ZM212.6 455.7L213.5 457.6L215.6 457.9L214.1 459.4L214.4 461.5L212.6 460.5L210.7 461.5L211.0 459.4L209.5 457.9L211.6 457.6ZM211.7 456.3L212.7 458.2L214.8 458.5L213.3 460.0L213.6 462.1L211.7 461.1L209.9 462.1L210.2 460.0L208.7 458.5L210.8 458.2ZM193.6 472.8L194.5 474.7L196.6 475.0L195.1 476.5L195.4 478.6L193.6 477.6L191.7 478.6L192.0 476.5L190.5 475.0L192.6 474.7ZM197.6 469.8L198.6 471.7L200.7 472.0L199.1 473.5L199.5 475.5L197.6 474.6L195.7 475.5L196.1 473.5L194.6 472.0L196.7 471.7ZM207.4 466.4L208.3 468.3L210.4 468.6L208.9 470.1L209.3 472.2L207.4 471.2L205.5 472.2L205.9 470.1L204.4 468.6L206.5 468.3ZM209.3 452.8L210.2 454.7L212.3 455.0L210.8 456.5L211.1 458.6L209.3 457.6L207.4 458.6L207.7 456.5L206.2 455.0L208.3 454.7ZM208.0 456.1L208.9 458.0L211.0 458.3L209.5 459.8L209.9 461.9L208.0 460.9L206.1 461.9L206.5 459.8L204.9 458.3L207.0 458.0ZM203.7 460.0L204.6 461.9L206.7 462.2L205.2 463.7L205.5 465.8L203.7 464.8L201.8 465.8L202.1 463.7L200.6 462.2L202.7 461.9ZM205.6 465.4L206.6 467.3L208.7 467.6L207.2 469.1L207.5 471.2L205.6 470.2L203.8 471.2L204.1 469.1L202.6 467.6L204.7 467.3ZM202.8 472.3L203.8 474.2L205.9 474.5L204.4 476.0L204.7 478.1L202.8 477.1L201.0 478.1L201.3 476.0L199.8 474.5L201.9 474.2ZM216.4 454.2L217.4 456.1L219.5 456.4L218.0 457.8L218.3 459.9L216.4 459.0L214.5 459.9L214.9 457.8L213.4 456.4L215.5 456.1ZM215.9 456.2L216.9 458.1L219.0 458.4L217.5 459.9L217.8 462.0L215.9 461.0L214.1 462.0L214.4 459.9L212.9 458.4L215.0 458.1ZM216.2 447.6L217.1 449.5L219.2 449.8L217.7 451.3L218.1 453.4L216.2 452.4L214.3 453.4L214.7 451.3L213.1 449.8L215.3 449.5ZM190.7 477.5L191.6 479.4L193.7 479.7L192.2 481.2L192.6 483.3L190.7 482.3L188.8 483.3L189.2 481.2L187.6 479.7L189.7 479.4ZM204.3 462.6L205.2 464.5L207.3 464.8L205.8 466.3L206.2 468.4L204.3 467.4L202.4 468.4L202.8 466.3L201.3 464.8L203.4 464.5ZM203.5 466.5L204.4 468.4L206.5 468.7L205.0 470.2L205.4 472.3L203.5 471.3L201.6 472.3L202.0 470.2L200.4 468.7L202.5 468.4ZM206.9 460.0L207.8 461.9L209.9 462.2L208.4 463.7L208.8 465.8L206.9 464.8L205.0 465.8L205.4 463.7L203.8 462.2L205.9 461.9ZM213.8 455.7L214.7 457.6L216.8 457.9L215.3 459.4L215.7 461.5L213.8 460.5L211.9 461.5L212.2 459.4L210.7 457.9L212.8 457.6ZM193.7 471.4L194.7 473.3L196.8 473.6L195.2 475.1L195.6 477.2L193.7 476.2L191.8 477.2L192.2 475.1L190.7 473.6L192.8 473.3ZM212.7 454.3L213.6 456.2L215.7 456.5L214.2 458.0L214.6 460.1L212.7 459.1L210.8 460.1L211.2 458.0L209.7 456.5L211.8 456.2ZM211.2 465.1L212.1 467.0L214.2 467.3L212.7 468.8L213.1 470.9L211.2 469.9L209.3 470.9L209.7 468.8L208.1 467.3L210.2 467.0ZM189.7 476.2L190.7 478.1L192.8 478.4L191.2 479.9L191.6 482.0L189.7 481.0L187.8 482.0L188.2 479.9L186.7 478.4L188.8 478.1ZM95.3 553.9L96.2 555.8L98.3 556.1L96.8 557.6L97.2 559.7L95.3 558.7L93.4 559.7L93.8 557.6L92.3 556.1L94.4 555.8ZM98.4 553.2L99.3 555.1L101.4 555.4L99.9 556.9L100.3 559.0L98.4 558.0L96.5 559.0L96.9 556.9L95.4 555.4L97.5 555.1ZM101.6 552.0L102.5 553.9L104.6 554.2L103.1 555.7L103.5 557.8L101.6 556.8L99.7 557.8L100.1 555.7L98.6 554.2L100.7 553.9ZM100.8 548.8L101.7 550.7L103.8 551.0L102.3 552.5L102.7 554.6L100.8 553.6L98.9 554.6L99.3 552.5L97.8 551.0L99.9 550.7ZM100.0 545.3L100.9 547.2L103.0 547.5L101.5 549.0L101.9 551.1L100.0 550.1L98.1 551.1L98.5 549.0L97.0 547.5L99.1 547.2ZM102.4 548.8L103.3 550.7L105.4 551.0L103.9 552.5L104.3 554.6L102.4 553.6L100.5 554.6L100.9 552.5L99.4 551.0L101.5 550.7ZM113.4 535.4L114.3 537.3L116.4 537.6L114.9 539.1L115.3 541.2L113.4 540.2L111.5 541.2L111.9 539.1L110.4 537.6L112.5 537.3ZM115.8 529.1L116.7 531.0L118.8 531.3L117.3 532.8L117.7 534.9L115.8 533.9L113.9 534.9L114.3 532.8L112.8 531.3L114.9 531.0ZM114.2 531.5L115.1 533.4L117.2 533.7L115.7 535.2L116.1 537.3L114.2 536.3L112.3 537.3L112.7 535.2L111.2 533.7L113.3 533.4ZM116.5 542.5L117.4 544.4L119.5 544.7L118.0 546.2L118.4 548.3L116.5 547.3L114.6 548.3L115.0 546.2L113.5 544.7L115.6 544.4ZM118.9 540.1L119.8 542.0L121.9 542.3L120.4 543.8L120.8 545.9L118.9 544.9L117.0 545.9L117.4 543.8L115.9 542.3L118.0 542.0ZM120.5 536.2L121.4 538.1L123.5 538.4L122.0 539.9L122.4 542.0L120.5 541.0L118.6 542.0L119.0 539.9L117.5 538.4L119.6 538.1ZM122.1 533.0L123.0 534.9L125.1 535.2L123.6 536.7L124.0 538.8L122.1 537.8L120.2 538.8L120.6 536.7L119.1 535.2L121.2 534.9ZM122.9 529.9L123.8 531.8L125.9 532.1L124.4 533.6L124.8 535.7L122.9 534.7L121.0 535.7L121.4 533.6L119.9 532.1L122.0 531.8ZM118.9 528.3L119.8 530.2L121.9 530.5L120.4 532.0L120.8 534.1L118.9 533.1L117.0 534.1L117.4 532.0L115.9 530.5L118.0 530.2ZM124.4 527.5L125.3 529.4L127.4 529.7L125.9 531.2L126.3 533.3L124.4 532.3L122.5 533.3L122.9 531.2L121.4 529.7L123.5 529.4ZM232.0 441.8L232.9 443.7L235.0 444.0L233.5 445.5L233.9 447.6L232.0 446.6L230.1 447.6L230.5 445.5L229.0 444.0L231.1 443.7ZM245.4 444.3L246.3 446.2L248.4 446.5L246.9 448.0L247.3 450.1L245.4 449.1L243.5 450.1L243.9 448.0L242.4 446.5L244.5 446.2ZM268.4 429.9L269.3 431.8L271.4 432.1L269.9 433.6L270.3 435.7L268.4 434.7L266.5 435.7L266.9 433.6L265.4 432.1L267.5 431.8Z" fill="#ff0000" stroke="#ff0000" stroke-width="2.2" stroke-linejoin="round"/>
<line x1="78.4" y1="569.0" x2="775.6" y2="14.4" stroke="#000" stroke-width="2.4"/>
<path d="M95.4 569.0v-9.7M95.4 14.4v9.7M78.4 555.5h9.7M775.6 555.5h-9.7M180.4 569.0v-9.7M180.4 14.4v9.7M78.4 487.8h9.7M775.6 487.8h-9.7M265.5 569.0v-9.7M265.5 14.4v9.7M78.4 420.2h9.7M775.6 420.2h-9.7M350.5 569.0v-9.7M350.5 14.4v9.7M78.4 352.6h9.7M775.6 352.6h-9.7M435.5 569.0v-9.7M435.5 14.4v9.7M78.4 284.9h9.7M775.6 284.9h-9.7M520.5 569.0v-9.7M520.5 14.4v9.7M78.4 217.3h9.7M775.6 217.3h-9.7M605.6 569.0v-9.7M605.6 14.4v9.7M78.4 149.7h9.7M775.6 149.7h-9.7M690.6 569.0v-9.7M690.6 14.4v9.7M78.4 82.0h9.7M775.6 82.0h-9.7" stroke="#000" stroke-width="2.5" fill="none"/>
<rect x="78.4" y="14.4" width="697.2" height="554.6" fill="none" stroke="#000" stroke-width="2.5"/>
<text x="95.4" y="591.5" text-anchor="middle">−50</text>
<text x="69.2" y="562.3" text-anchor="end">−50</text>
<text x="180.4" y="591.5" text-anchor="middle">0</text>
<text x="69.2" y="494.6" text-anchor="end">0</text>
<text x="265.5" y="591.5" text-anchor="middle">50</text>
<text x="69.2" y="427.0" text-anchor="end">50</text>
<text x="350.5" y="591.5" text-anchor="middle">100</text>
<text x="69.2" y="359.4" text-anchor="end">100</text>
<text x="435.5" y="591.5" text-anchor="middle">150</text>
<text x="69.2" y="291.7" text-anchor="end">150</text>
<text x="520.5" y="591.5" text-anchor="middle">200</text>
<text x="69.2" y="224.1" text-anchor="end">200</text>
<text x="605.6" y="591.5" text-anchor="middle">250</text>
<text x="69.2" y="156.5" text-anchor="end">250</text>
<text x="690.6" y="591.5" text-anchor="middle">300</text>
<text x="69.2" y="88.8" text-anchor="end">300</text>
<text x="775.6" y="591.5" text-anchor="middle">350</text>
<text x="69.2" y="21.2" text-anchor="end">350</text>
<text x="427.7" y="625" text-anchor="middle">In situ R<tspan class="mi" font-size="14" dy="3">n</tspan><tspan dy="-3"> (Wm</tspan><tspan class="m" font-size="14" dy="-8"> − 2</tspan><tspan dy="8">)</tspan></text>
<text transform="translate(22.6,290.8) rotate(-90)" text-anchor="middle">Predicted R<tspan class="mi" font-size="14" dy="3">n</tspan><tspan dy="-3"> (Wm</tspan><tspan class="m" font-size="14" dy="-8"> − 2</tspan><tspan dy="8">)</tspan></text>
<text x="181.1" y="135.9" style="fill:#000">Case 1 &amp; Case 2</text>
<text x="181.1" y="156.0" style="fill:#000">RMSE = 9.768</text>
<text x="181.1" y="176.0" style="fill:#000">bias = -0.092</text>
<text x="181.1" y="196.1" style="fill:#000">R² = 0.972</text>
<text x="181.1" y="216.1" style="fill:#000">Num =16082</text>
<text x="588.0" y="407.0" style="fill:#0000ff">Case 1</text>
<text x="588.0" y="427.1" style="fill:#0000ff">RMSE = 9.805</text>
<text x="588.0" y="447.1" style="fill:#0000ff">bias = -0.095</text>
<text x="588.0" y="467.1" style="fill:#0000ff">R² = 0.972</text>
<text x="588.0" y="487.2" style="fill:#0000ff">Num =15952</text>
<text x="350.0" y="462.0" style="fill:#ff0000">Case 2</text>
<text x="350.0" y="482.1" style="fill:#ff0000">RMSE = 2.824</text>
<text x="350.0" y="502.1" style="fill:#ff0000">bias = 0.346</text>
<text x="350.0" y="522.1" style="fill:#ff0000">R² = 0.979</text>
<text x="350.0" y="542.2" style="fill:#ff0000">Num =130</text>
</svg></body></html>
